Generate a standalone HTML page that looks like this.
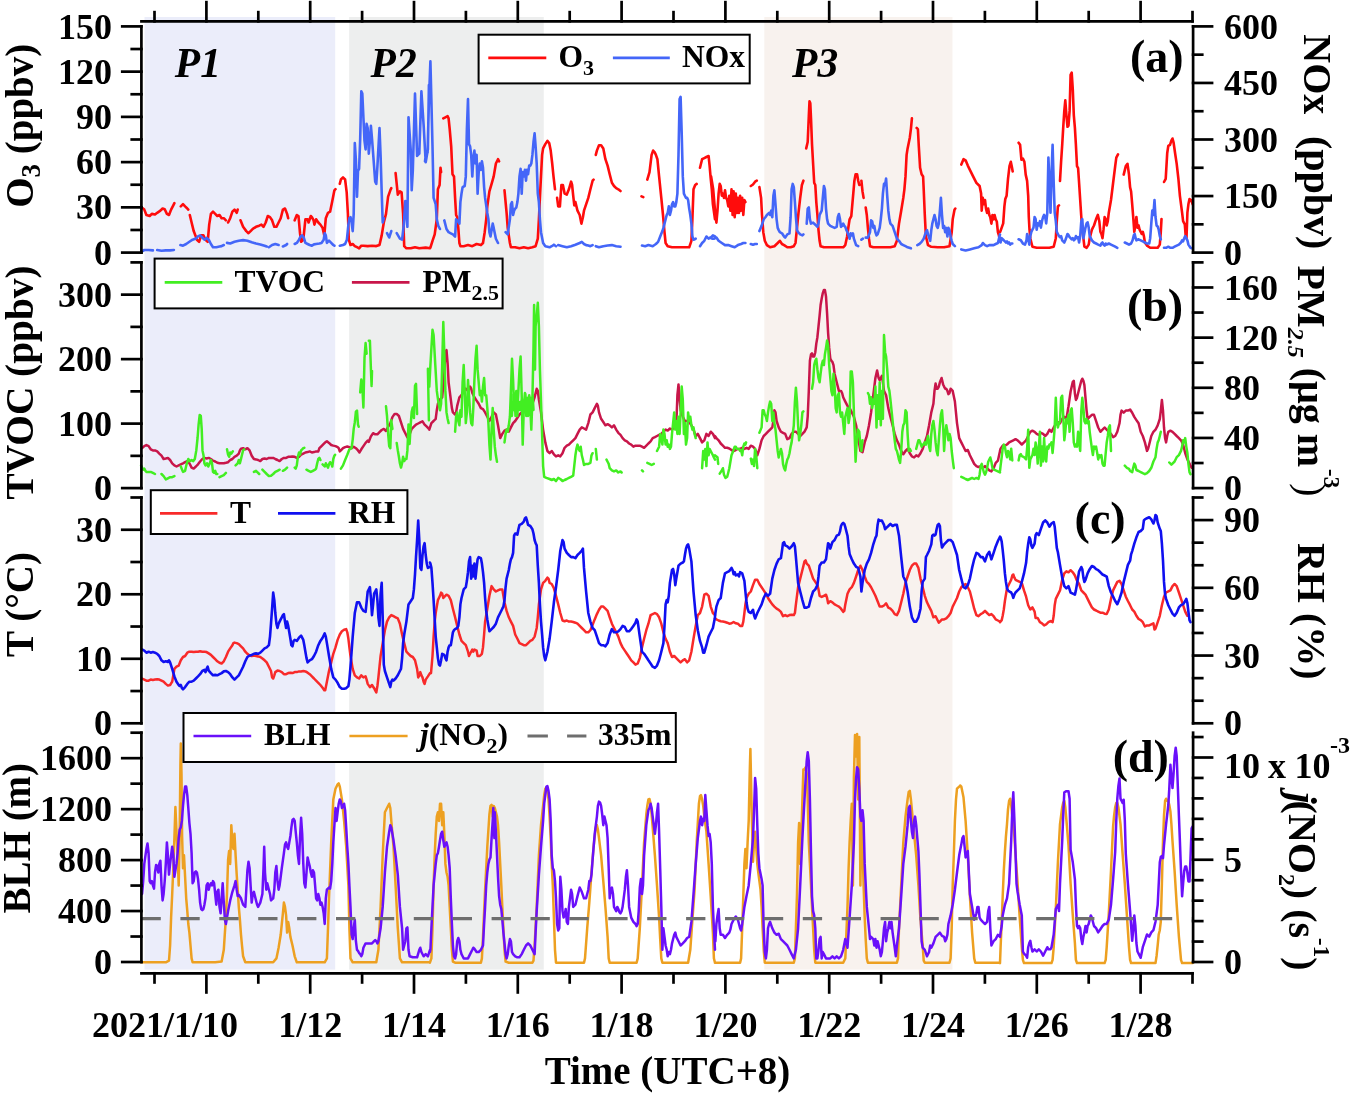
<!DOCTYPE html>
<html><head><meta charset="utf-8"><title>chart</title>
<style>html,body{margin:0;padding:0;background:#fff;width:1350px;height:1093px;overflow:hidden}svg{display:block;will-change:transform}</style>
</head><body><svg width="1350" height="1093" viewBox="0 0 1350 1093" font-family='"Liberation Serif", serif' font-weight="bold"><rect x="144.5" y="17.0" width="190.70" height="952.6" fill="#EBEDFA"/>
<rect x="349.12" y="17.0" width="194.62" height="952.6" fill="#EDEEEE"/>
<rect x="764.32" y="17.0" width="188.14" height="952.6" fill="#F8F2EE"/>
<g id="data"><path d="M141.7 207.4 L144.3 209.6 L146.4 215.0 L149.7 216.0 L151.8 213.9 L155.0 214.5 L157.2 212.8 L160.4 210.7 L162.6 208.5 L164.7 209.2 L166.9 213.9 L169.0 215.0 L171.1 209.6 L173.3 205.3 L174.4 203.1 M180.8 206.4 L183.0 204.2 L185.1 206.4 L187.3 208.5 L188.3 209.6 M189.8 215.0 L191.6 222.5 L193.7 231.1 L195.4 235.4 L196.9 239.7 L199.1 241.8 L201.2 235.4 L203.4 235.4 L205.5 239.7 L207.7 241.8 L209.2 224.6 L210.9 213.9 L213.0 211.7 L215.2 213.9 L217.3 216.0 L219.5 215.0 L221.6 218.2 L223.8 218.2 L225.9 220.3 M228.1 222.5 L230.2 218.2 L232.4 211.7 L234.5 209.6 L236.7 212.8 L237.7 209.6 M240.5 220.3 L243.1 226.8 L246.3 231.1 L248.5 233.2 L250.6 231.1 L252.8 228.9 L256.0 226.8 L259.2 225.7 L261.4 224.6 L263.5 226.8 L265.7 222.5 L267.8 216.0 L270.0 217.1 L272.1 220.3 L274.3 226.8 L276.4 226.8 L278.6 222.5 L280.7 218.2 L282.9 209.6 L285.0 208.5 L287.1 213.9 L288.2 218.2 M294.7 220.3 L296.8 215.0 L298.5 216.0 L300.0 233.2 L301.1 241.8 L303.3 239.7 L305.4 219.3 L307.6 219.3 L308.6 222.5 L310.8 216.0 L311.9 217.1 L313.6 220.3 L314.4 224.6 L316.1 219.3 L318.3 222.5 L320.4 224.6 L322.6 227.9 L324.3 235.4 L325.8 218.2 L328.0 212.8 L330.1 211.7 L332.3 201.0 L334.4 190.3 L335.5 189.2 M339.8 183.8 L340.9 179.5 L343.0 177.4 L345.1 179.5 L346.7 192.4 L347.9 213.9 L348.8 239.7 L350.5 245.0 L352.7 244.0 L354.8 246.1 L357.0 247.2 L359.1 248.3 L361.3 245.7 L363.4 245.7 L367.7 246.1 L372.0 245.7 L376.3 246.1 L379.5 245.0 L381.7 235.4 L383.8 222.5 L386.0 213.9 L388.1 196.7 L390.3 190.3 L391.3 188.1 M395.6 173.1 L397.8 194.6 L399.9 191.3 L401.6 192.4 L403.1 213.9 L404.2 246.1 L406.4 248.3 L410.7 248.3 L415.0 247.2 L419.3 248.3 L425.7 247.6 L430.0 248.3 M430.4 247.7 L432.5 240.8 L434.7 234.4 L436.8 219.3 L437.9 189.3 L439.6 185.0 L440.5 167.8 L441.1 172.1 M443.3 118.4 L445.4 117.3 L447.6 116.2 L448.6 118.4 L449.7 129.1 L451.2 146.3 L452.5 174.2 L454.0 176.4 L455.1 197.9 L456.1 215.0 L457.2 217.2 L458.3 227.9 L459.4 243.0 L460.4 246.2 L463.7 246.2 L468.0 245.1 L472.3 246.2 L476.6 244.0 L480.9 245.1 L483.0 243.0 L484.7 232.2 L486.2 219.3 L487.3 206.4 L489.4 191.4 L491.6 183.9 L493.7 176.4 L495.9 163.5 L498.0 159.2 L499.1 161.3 M504.5 190.3 L506.6 212.9 L507.7 227.9 L509.9 243.0 L510.9 247.3 L515.2 247.3 L519.5 248.3 L523.8 247.3 L528.1 248.3 L532.4 247.3 L535.6 246.2 L537.8 238.7 L538.9 219.3 L539.9 197.9 L541.0 176.4 L542.1 154.9 L543.1 148.4 L545.3 144.1 L547.4 140.9 L549.2 143.1 L550.7 150.6 L552.2 163.5 L553.5 176.4 L555.0 189.3 M557.1 197.9 L558.2 206.4 L559.9 206.4 L561.4 185.0 L562.9 185.0 L564.6 193.6 L566.8 194.6 L568.9 189.3 L571.1 181.7 L572.1 185.0 L573.2 195.7 L574.3 205.4 L575.4 202.1 L577.5 210.7 L579.7 215.0 L581.4 223.6 L582.9 217.2 L584.0 210.7 L586.1 204.3 L588.3 197.9 L590.4 189.3 L592.6 180.7 L593.6 179.6 M595.8 154.9 L596.9 150.6 L599.0 145.2 L601.1 145.2 L603.3 148.4 L605.4 159.2 L607.6 165.6 L609.7 174.2 L611.9 182.8 L614.0 186.0 L616.2 188.2 L618.3 189.3 L620.5 191.0 M641.5 196.3 L643.3 197.2 M647.3 179.6 L649.5 172.1 L651.6 154.9 L653.1 150.6 L654.9 152.7 L655.9 154.9 L657.4 159.2 L659.1 176.4 L661.3 197.9 L663.0 215.0 L664.5 232.2 L665.6 243.0 L667.7 246.2 L672.0 247.3 L676.3 247.3 L680.6 247.3 L684.9 247.3 L689.2 247.3 L691.4 240.8 L692.4 219.3 L693.5 189.3 L695.2 185.0 L696.7 183.9 M700.0 167.8 L702.1 159.2 L704.3 158.1 L706.4 157.0 L708.6 156.0 L709.6 165.6 L710.7 178.5 L711.8 189.3 L712.9 204.3 L715.0 219.3 M711.1 176.4 L713.2 189.3 L715.4 215.0 L716.4 222.6 L717.5 210.7 L718.6 193.6 L719.7 183.9 L720.7 186.0 L721.8 195.7 L722.9 193.6 L724.0 197.9 L725.0 190.3 L726.1 197.9 L727.2 200.0 L728.3 206.4 L729.3 195.7 L730.4 210.7 L731.5 189.3 L732.6 215.0 L733.6 191.4 L734.7 217.2 L735.8 193.6 L736.9 212.9 L737.9 197.9 L739.0 212.9 L740.1 195.7 L741.1 210.7 L742.2 197.9 L743.3 215.0 L744.4 200.0 L745.4 202.1 M750.8 186.0 L753.0 184.5 L755.1 181.7 L756.8 180.7 M759.4 187.1 L761.1 197.9 L762.0 215.0 L763.3 232.2 L764.8 240.8 L766.9 245.1 L770.1 247.3 L774.4 246.2 L777.7 243.0 L779.8 240.8 L782.0 244.0 L784.1 245.1 L787.3 247.3 L790.6 247.3 L793.8 246.2 L795.5 243.0 L797.0 227.9 L798.5 212.9 L800.2 197.9 L801.9 185.0 L803.4 180.7 M806.2 148.4 L807.7 142.0 L808.8 116.2 L809.5 101.2 L810.3 103.3 L811.0 118.4 L812.0 144.1 L813.1 163.5 L814.2 182.8 L815.3 185.0 L816.3 202.1 L817.4 215.0 L818.5 230.1 L819.6 240.8 L820.6 246.2 L823.9 247.3 L830.3 247.3 L836.7 247.3 L843.2 247.3 L845.3 245.1 L847.1 236.5 L848.6 225.8 L849.6 219.3 L851.3 216.1 L852.9 197.9 L854.4 180.7 L855.6 174.2 L857.1 174.2 L858.2 180.7 L859.3 185.0 M861.4 180.7 L862.5 191.4 L863.6 197.9 M865.7 207.5 L866.8 215.0 L867.9 227.9 L869.0 238.7 L870.0 246.2 L873.3 247.3 L881.9 247.3 L890.4 247.3 L894.7 246.2 L896.9 240.8 L899.0 223.6 L901.2 210.7 L903.3 197.9 L904.4 189.3 L905.5 176.4 L906.6 154.9 L907.6 148.4 L909.8 137.7 L910.9 129.1 L911.9 118.4 M916.7 128.0 L917.9 129.1 L918.8 146.3 L920.1 167.8 L921.6 174.2 L923.1 176.4 L923.7 189.3 L924.8 215.0 L925.9 236.5 L927.0 240.8 L928.0 245.1 L931.3 246.8 L937.7 247.3 L944.1 247.3 L949.5 246.2 L951.7 232.2 L952.7 219.3 L954.5 209.7 L955.3 208.6 M961.3 164.6 L963.5 159.2 L965.6 160.3 L967.8 165.6 L971.0 172.1 L973.1 176.4 L976.4 182.8 L979.6 186.0 L981.1 193.6 L981.7 210.7 L982.8 197.9 L983.9 204.3 L985.0 200.0 L986.0 208.6 L987.1 212.9 L988.2 208.6 L989.3 215.0 L990.3 217.2 L991.4 223.6 L992.5 215.0 L993.6 219.3 L994.6 215.0 L995.7 219.3 L996.8 221.5 L997.9 232.2 L998.9 235.4 L1000.0 240.8 M1000.2 231.8 L1001.7 227.6 L1003.2 223.4 L1004.4 206.4 L1005.3 199.0 L1006.6 195.8 L1008.0 178.8 L1009.5 166.1 L1010.8 161.8 L1011.9 167.1 L1012.7 171.4 M1018.6 142.7 L1020.1 144.8 L1021.4 159.7 L1022.9 158.6 L1024.4 161.8 L1025.7 174.6 L1027.1 180.9 L1028.2 195.8 L1028.8 217.0 L1029.5 229.7 L1030.3 238.2 L1032.4 246.7 L1036.7 247.8 L1040.9 247.8 L1045.2 247.8 L1049.4 247.8 L1053.7 246.7 L1055.8 238.2 L1056.8 221.2 L1057.9 206.4 L1059.0 205.3 M1060.0 180.9 L1061.1 161.8 L1062.2 144.8 L1063.2 127.9 L1064.3 110.9 L1065.3 100.3 L1066.4 115.1 L1067.5 126.8 L1068.5 125.7 L1069.6 110.9 L1070.6 74.8 L1071.7 72.7 L1072.8 89.7 L1073.8 115.1 L1074.9 127.9 L1075.9 144.8 L1077.0 166.1 L1078.1 168.2 L1079.1 183.0 L1080.2 200.0 L1081.3 217.0 L1082.3 229.7 L1083.4 238.2 L1084.4 246.7 L1086.6 247.8 L1088.7 244.6 L1089.7 238.2 L1090.8 234.0 L1091.9 229.7 L1092.9 227.6 L1094.0 225.5 L1096.1 219.1 L1097.8 214.9 L1099.3 221.2 L1100.4 231.8 L1101.4 234.0 L1102.5 238.2 L1103.5 229.7 L1104.6 217.0 L1105.7 219.1 L1106.7 225.5 L1107.8 221.2 L1108.8 212.7 L1111.0 200.0 L1113.1 183.0 L1115.2 166.1 L1116.3 157.6 L1118.0 154.4 M1123.7 174.6 L1125.8 166.1 L1127.5 163.9 L1129.0 174.6 L1130.1 187.3 L1131.1 191.5 L1132.2 204.3 L1133.2 217.0 L1134.3 231.8 L1135.4 225.5 L1136.4 217.0 L1137.5 227.6 L1138.6 225.5 L1139.6 229.7 L1140.7 231.8 L1141.7 234.0 L1142.8 231.8 L1143.9 236.1 L1144.9 242.5 L1147.0 245.6 L1150.2 247.8 L1153.4 247.8 L1157.7 247.8 L1159.8 244.6 L1160.8 231.8 L1161.5 219.1 M1164.0 182.0 L1165.7 178.8 L1167.2 153.3 L1168.3 145.9 L1170.0 144.8 L1171.4 140.6 L1172.5 138.5 L1173.6 142.7 L1175.1 153.3 L1176.7 163.9 L1178.4 178.8 L1179.9 195.8 L1182.1 212.7 L1183.1 221.2 L1184.8 224.4 L1185.7 236.1 L1186.5 238.2 L1187.4 212.7 L1188.4 204.3 L1189.5 199.0 L1191.2 200.0 L1192.7 204.3" fill="none" stroke="#FF0C0C" stroke-width="2.6" stroke-linejoin="round" stroke-linecap="round"/>
<path d="M141.7 251.5 L144.3 250.0 L148.6 250.0 L152.9 250.4 M157.2 250.0 L161.5 250.8 L165.8 250.4 L170.1 250.4 L173.9 250.0 M180.4 245.0 L183.0 245.7 L186.2 244.0 L189.4 241.8 L192.6 239.7 L195.9 238.6 L198.0 236.4 L200.1 235.4 L202.3 237.5 L204.4 239.7 L206.6 237.9 L208.7 239.7 L210.9 244.0 L213.0 247.2 L216.3 247.2 L219.5 246.5 L221.6 246.1 L223.8 245.0 M227.0 242.9 L230.2 243.5 L234.5 241.8 L238.8 240.7 L243.1 240.1 L247.4 240.7 L251.7 242.2 L256.0 243.5 L260.3 244.4 L264.6 245.7 L266.7 246.5 M268.9 247.2 L272.1 245.0 L275.3 244.0 L278.6 245.0 M282.9 246.5 L286.1 245.0 L287.1 244.0 M294.7 244.0 L296.8 242.9 L299.0 239.7 L300.7 236.4 L302.2 235.4 L303.7 237.5 L305.4 242.9 L307.6 244.0 L309.7 245.0 L311.9 245.7 L314.0 244.4 L316.1 244.0 L319.4 243.5 L321.5 242.9 L323.7 239.7 L324.7 233.2 L325.8 235.4 L326.9 242.9 L329.0 240.7 L331.2 242.9 L333.3 245.0 L334.4 245.7 M339.8 245.7 L343.0 245.0 L345.1 244.0 L346.9 239.7 L348.4 224.6 L349.4 218.2 L350.5 217.1 L351.6 222.5 L352.7 231.1 L353.7 213.9 L354.8 143.0 L355.9 160.2 L357.0 196.7 L358.0 170.9 L359.1 168.8 L360.2 138.7 L361.3 91.4 L362.3 93.6 L363.4 117.2 L364.5 140.9 L365.6 149.4 L366.6 123.7 L367.7 128.0 L368.8 153.7 L369.9 140.9 L370.9 125.8 L372.0 138.7 L374.1 166.6 L375.2 181.7 L376.3 183.8 L377.4 166.6 L379.5 128.0 L380.6 155.9 L381.7 192.4 L382.7 222.5 L383.8 218.2 M387.0 233.2 L389.2 237.5 L391.3 231.1 M396.7 233.2 L399.9 238.6 L402.1 239.7 L403.8 224.6 L405.3 201.0 L407.4 226.8 L408.5 117.2 L410.7 149.4 L411.7 190.3 L412.8 170.9 L415.0 93.6 L417.1 155.9 L419.3 153.7 L421.4 91.4 L423.6 124.7 L425.7 162.3 L427.9 149.4 L428.9 85.0 M425.0 161.3 L426.1 152.7 L427.6 152.7 L428.9 101.2 L430.4 61.4 L431.4 101.2 L432.5 146.3 L433.6 197.9 L434.7 201.1 L435.7 204.3 L436.8 219.3 L438.3 225.8 L440.0 229.0 M444.3 220.4 L446.5 229.0 L448.6 232.2 L450.8 233.3 L452.9 234.4 L455.1 236.5 L456.1 219.3 L457.2 220.4 L458.3 221.5 L459.4 223.6 L460.4 202.1 L461.5 193.6 L462.6 187.1 L464.7 186.0 L465.8 176.4 L466.9 129.1 L468.0 99.0 L469.0 144.1 L470.1 146.3 L471.2 154.9 L472.3 176.4 L473.3 159.2 L474.4 150.6 L475.5 163.5 L476.6 154.9 L477.6 193.6 L478.7 172.1 L479.8 163.5 L480.9 169.9 L481.9 161.3 L483.0 167.8 L484.1 187.1 L485.1 197.9 L487.3 212.9 L488.4 219.3 L489.4 232.2 L490.5 236.5 L492.7 223.6 L493.7 227.9 L495.9 238.7 L498.0 243.0 M505.6 232.2 L507.7 234.4 L509.9 219.3 L510.9 204.3 L512.0 202.1 L513.1 215.0 L514.1 210.7 L515.2 208.6 L516.3 207.5 L517.4 202.1 L518.4 193.6 L519.5 176.4 L520.6 168.9 L521.7 193.6 L522.7 172.1 L523.8 176.4 L524.9 169.9 L526.0 180.7 L527.0 169.9 L528.1 174.2 L529.2 165.6 L530.3 165.6 L531.3 163.5 L532.4 154.9 L533.5 142.0 L534.6 133.4 L535.6 146.3 L536.7 163.5 L537.8 193.6 L538.9 202.1 L539.9 219.3 L541.0 232.2 L543.1 243.0 L545.3 246.2 L549.6 247.3 L551.7 246.2 L553.9 244.7 L556.0 246.2 M558.2 245.1 L562.5 246.2 L566.8 247.3 L571.1 246.2 L575.4 244.7 L579.7 243.0 L581.8 241.9 L584.0 244.0 L586.1 245.1 L588.3 245.5 L590.4 246.2 L592.6 245.1 M595.8 246.2 L599.0 247.3 L603.3 246.2 L607.6 245.5 L611.9 245.1 L616.2 246.2 L620.5 246.8 M642.0 245.5 L645.2 246.2 L648.4 245.1 L652.7 246.2 L655.9 244.0 L658.1 241.9 L660.2 236.5 L662.4 231.1 L663.4 227.9 L664.5 223.6 L666.7 215.0 L667.7 212.9 L668.8 206.4 L669.9 215.0 L671.0 210.7 L672.0 204.3 L673.1 202.1 L674.2 206.4 L675.3 206.4 L676.3 202.1 L677.4 193.6 L678.5 154.9 L679.6 99.0 L680.6 96.9 L681.7 133.4 L682.8 176.4 L683.9 193.6 L684.9 195.7 L686.0 197.9 L687.1 197.9 L688.1 200.0 L689.2 208.6 L690.3 215.0 L691.4 223.6 L692.4 236.5 L693.5 239.7 L695.7 238.7 M700.0 246.2 L702.1 243.0 L704.3 240.8 L706.4 236.5 L708.6 238.7 L710.7 237.6 L712.9 235.4 L715.0 236.5 M710.0 237.6 L712.1 238.7 L714.3 238.7 L716.4 237.6 L718.6 240.8 L721.8 243.0 L725.0 245.1 L728.3 245.1 L731.5 246.2 L734.7 247.3 L737.9 245.1 L741.1 244.0 L743.3 243.0 L745.4 243.0 M750.8 244.0 L753.0 244.7 L755.1 244.0 L756.8 244.0 M759.4 231.1 L761.6 225.8 L763.7 219.3 L765.4 217.2 L766.9 215.0 L769.1 212.9 L770.1 215.0 L771.2 210.7 L772.3 217.2 L773.4 195.7 L774.4 190.3 L775.5 204.3 L776.6 219.3 L777.7 227.9 L778.7 230.1 L779.8 232.2 L782.0 233.3 L784.1 236.5 L785.2 237.6 L787.3 234.4 L789.5 233.3 L790.6 217.2 L791.6 189.3 L792.7 183.9 L793.8 187.1 L794.9 202.1 L795.9 217.2 L797.0 230.1 L798.1 232.2 L800.2 234.4 L802.4 235.4 L803.4 234.4 M806.7 223.6 L807.7 208.6 L808.8 207.5 L809.9 219.3 L811.0 223.6 L813.1 222.6 L815.3 224.7 L817.4 226.9 L818.5 223.6 L819.6 215.0 L820.6 212.9 L821.7 210.7 L822.8 197.9 L823.9 186.0 L824.9 189.3 L826.0 208.6 L827.1 219.3 L828.1 223.6 L830.3 225.8 L832.4 226.9 L834.6 227.9 L836.7 226.9 L837.8 217.2 L838.9 214.0 L840.0 219.3 L841.0 226.9 L842.1 225.8 L843.2 223.6 L844.3 225.8 L845.3 226.9 L846.4 230.1 L847.5 232.2 L848.6 235.4 L849.6 238.7 L850.7 233.3 L851.8 235.4 L852.9 233.3 L853.9 238.7 L855.0 241.9 L856.1 245.1 L858.2 246.2 M861.4 239.7 L862.9 238.7 M865.7 237.6 L867.9 237.6 L870.0 232.2 L871.1 220.4 L872.2 221.5 L873.3 227.9 L874.3 225.8 L875.4 232.2 L876.5 235.4 L877.6 234.4 L879.7 227.9 L880.8 219.3 L881.9 208.6 L882.9 193.6 L884.0 183.9 L885.1 185.0 L886.1 178.5 L887.2 195.7 L888.3 210.7 L889.4 219.3 L890.4 223.6 L892.6 225.8 L894.7 232.2 L896.9 238.7 L899.0 240.8 L901.2 244.0 L903.3 245.1 L905.5 246.2 L907.6 247.3 L910.9 248.3 M917.3 245.1 L919.4 244.0 L921.6 241.9 L923.7 238.7 L925.9 232.2 L927.0 230.1 L928.0 234.4 L929.1 237.6 L930.2 240.8 L931.3 230.1 L932.3 223.6 L933.4 219.3 L934.5 215.0 L935.6 219.3 L936.6 225.8 L937.7 227.9 L938.8 223.6 L939.9 210.7 L940.9 197.9 L942.0 215.0 L943.1 227.9 L944.1 225.8 L945.2 232.2 L946.3 227.9 L947.4 236.5 L948.4 227.9 L949.5 230.1 L950.6 236.5 L951.7 240.8 L952.7 244.0 L954.9 246.2 M961.3 249.4 L965.6 250.5 L969.9 249.4 L974.2 248.3 L978.5 247.3 L981.7 245.1 L982.8 243.0 L985.0 245.1 L987.1 246.2 L989.3 245.1 L991.4 245.1 L993.6 245.1 L995.7 244.0 L997.9 243.0 L1000.0 234.4 M1000.2 240.3 L1000.6 242.5 L1001.7 238.2 L1002.7 239.3 L1003.8 240.3 L1004.9 241.4 L1005.9 242.5 L1007.0 241.4 L1008.0 243.5 L1009.1 242.5 L1010.2 244.6 L1011.2 243.5 L1012.3 243.5 M1018.6 239.3 L1020.8 240.3 L1022.9 243.5 L1025.0 244.6 L1026.5 240.3 L1027.1 234.0 L1028.2 238.2 L1029.3 244.6 L1030.3 236.1 L1031.4 231.8 L1032.4 229.7 L1033.5 227.6 L1034.6 217.0 L1035.6 219.1 L1036.7 229.7 L1037.7 223.4 L1038.8 225.5 L1039.9 221.2 L1040.9 227.6 L1042.0 221.2 L1043.1 217.0 L1044.1 214.9 L1045.2 217.0 L1046.2 223.4 L1047.3 212.7 L1048.4 157.6 L1049.4 180.9 L1050.5 212.7 L1051.5 174.6 L1052.6 144.8 L1053.7 183.0 L1054.7 212.7 L1055.8 221.2 L1056.8 231.8 L1057.9 234.0 L1059.0 236.1 L1060.0 237.2 L1061.1 236.1 L1062.2 240.3 L1063.2 241.4 L1064.3 242.5 L1065.3 240.3 L1066.4 237.2 L1067.5 234.0 L1068.5 235.0 L1069.6 237.2 L1070.6 238.2 L1071.7 239.3 L1072.8 238.2 L1073.8 240.3 L1074.9 239.3 L1075.9 236.1 L1077.0 238.2 L1078.1 237.2 L1079.1 242.5 L1080.2 236.1 L1081.3 221.2 L1082.3 219.1 L1083.4 238.2 L1084.4 232.9 L1085.5 227.6 L1086.6 223.4 L1087.6 222.3 L1088.7 227.6 L1089.7 236.1 L1090.8 238.2 L1091.9 240.3 L1094.0 242.5 L1096.1 243.5 L1098.2 244.6 L1100.4 245.6 L1101.4 243.5 L1102.5 242.5 L1103.5 244.6 L1104.6 245.6 L1105.7 243.5 L1106.7 244.6 L1108.8 243.5 L1111.0 244.6 L1113.1 245.6 L1115.2 246.7 L1117.3 247.8 M1124.8 242.5 L1126.9 243.5 L1129.0 244.6 L1131.1 243.5 L1132.6 240.3 L1133.9 235.0 L1134.7 234.0 L1135.6 238.2 L1136.4 240.3 L1138.6 239.3 L1140.7 240.3 L1142.8 241.4 L1144.9 242.5 L1147.0 243.5 L1149.2 243.5 L1150.2 238.2 L1151.3 223.4 L1152.3 210.6 L1153.4 214.9 L1154.5 200.0 L1155.5 217.0 L1156.6 225.5 L1157.7 226.5 L1158.7 229.7 L1159.8 236.1 L1160.8 239.3 M1164.0 247.8 L1166.1 247.8 L1168.3 246.7 L1170.4 247.8 L1172.5 247.8 L1174.6 246.7 L1176.7 245.6 L1178.9 244.6 L1181.0 242.5 L1182.1 240.3 L1183.1 241.4 L1184.2 238.2 L1185.2 236.1 L1186.3 238.2 L1187.4 240.3 L1188.4 244.6 L1190.5 247.8 L1192.0 248.4" fill="none" stroke="#4466F8" stroke-width="2.6" stroke-linejoin="round" stroke-linecap="round"/>
<path d="M142.1 448.2 L144.3 446.1 L146.4 445.0 L148.6 446.1 L150.7 449.3 L152.9 450.4 L155.0 450.4 L157.2 451.4 L159.3 453.6 L161.5 455.7 L163.6 459.0 L165.8 458.5 L167.9 457.9 L170.1 460.0 L172.2 463.3 L174.4 465.4 L176.5 466.5 L178.7 465.4 L180.8 464.3 L183.0 463.3 L185.1 462.2 L187.3 461.1 L189.4 463.3 L191.6 467.6 L193.7 468.6 L195.9 466.5 L198.0 464.3 L200.1 461.5 L202.3 459.0 L204.4 457.9 L206.6 458.5 L208.7 457.9 L210.9 459.0 L213.0 460.7 L215.2 461.5 L217.3 462.8 L219.5 463.3 L221.6 463.3 L223.8 463.3 L225.9 462.8 L228.1 462.2 L230.2 460.0 L232.4 459.0 L234.5 456.8 L236.7 455.7 L238.8 453.6 L239.9 450.4 L241.0 448.7 L243.1 448.2 L245.3 449.3 L247.4 448.2 L249.6 450.4 L251.7 455.7 L253.9 459.0 L256.0 459.4 L258.1 460.0 L260.3 461.1 L262.4 459.0 L264.6 458.5 L266.7 459.0 L268.9 457.9 L271.0 457.9 L273.2 457.9 L275.3 459.0 L277.5 460.0 L279.6 461.1 L281.8 459.0 L283.9 457.9 L286.1 457.9 L288.2 456.8 L290.4 456.8 L292.5 456.4 L294.7 456.8 L296.8 457.9 L299.0 456.8 L301.1 454.7 L303.3 453.6 L305.4 452.5 L307.6 452.1 L309.7 451.4 L311.9 452.5 L314.0 452.1 L316.1 451.4 L318.3 451.4 L319.4 448.2 L321.5 446.1 L323.7 443.9 L325.8 441.8 L326.9 441.3 L329.0 442.9 L331.2 445.0 L333.3 445.6 L335.5 446.1 L337.6 447.1 L338.7 448.2 L339.8 451.4 L340.9 450.4 L343.0 448.2 L345.1 447.1 L347.3 446.5 L349.4 447.1 L351.6 448.2 L353.7 446.7 L355.9 448.2 L358.0 450.4 L359.5 452.5 L361.3 449.3 L363.4 446.1 L365.6 442.9 L367.7 440.7 L368.8 441.8 L370.9 436.4 L373.1 433.2 L375.2 434.3 L377.4 434.3 L379.5 432.1 L381.7 430.0 L383.8 428.9 L386.0 431.0 L388.1 426.7 L390.3 423.5 L392.4 417.1 L394.6 413.9 L396.7 413.9 L398.9 416.0 L401.0 422.4 L403.1 428.9 L405.3 433.2 L407.4 437.5 L409.6 434.3 L411.7 428.9 L413.9 426.7 L416.0 424.6 L418.2 423.5 L420.3 422.4 L422.5 421.4 L424.6 424.6 L426.8 426.7 L428.9 428.9 M429.3 429.6 L431.4 423.1 L433.6 421.0 L435.7 418.8 L436.8 410.2 L437.9 403.8 L440.0 399.5 L442.2 397.3 L444.3 373.7 L445.4 352.2 L446.5 350.1 L447.6 363.0 L448.6 382.3 L449.7 390.9 L450.8 399.5 L451.9 408.1 L452.9 412.4 L455.1 414.5 L456.1 412.4 L457.2 405.9 L459.4 397.3 L461.5 395.2 L463.7 390.9 L465.8 388.7 L468.0 390.9 L470.1 386.6 L471.2 388.7 L472.3 393.0 L474.4 397.3 L476.6 400.6 L478.7 403.8 L480.9 408.1 L483.0 409.1 L485.1 412.4 L487.3 416.7 L489.4 421.0 L491.6 416.7 L493.7 412.4 L495.9 414.5 L498.0 425.3 L500.2 438.1 L502.3 433.9 L504.5 430.6 L506.6 429.6 L508.8 431.7 L510.9 427.4 L513.1 423.1 L515.2 421.0 L517.4 417.7 L519.5 414.5 L521.7 412.4 L523.8 410.2 L526.0 410.2 L528.1 408.1 L530.3 412.4 L532.4 403.8 L534.6 397.3 L536.7 388.7 L537.8 390.9 L538.9 399.5 L541.0 412.4 L543.1 429.6 L545.3 442.4 L547.4 451.0 L549.6 453.2 L551.7 451.0 L553.9 454.3 L556.0 456.4 L558.2 455.3 L560.3 456.4 L562.5 453.2 L564.6 447.8 L566.8 445.7 L568.9 444.6 L571.1 442.4 L573.2 440.3 L575.4 438.1 L577.5 433.9 L579.7 429.6 L581.8 427.4 L584.0 428.5 L586.1 429.6 L588.3 423.1 L590.4 414.5 L592.6 412.4 L594.7 408.1 L596.9 403.8 L597.9 405.9 L599.0 412.4 L601.1 418.8 L603.3 422.0 L605.4 425.3 L607.6 424.2 L609.7 425.3 L611.9 427.4 L614.0 425.3 L616.2 429.6 L618.3 432.8 L620.5 434.9 L622.6 438.1 L624.8 440.3 L626.9 441.4 L629.1 443.5 L631.2 444.6 L633.4 446.7 L635.5 445.7 L637.7 445.7 L639.8 445.7 L642.0 446.7 L644.1 447.8 L646.3 445.7 L648.4 443.5 L650.6 441.4 L652.7 438.1 L654.9 437.1 L657.0 436.0 L659.1 434.9 L661.3 433.9 L663.4 431.7 L665.6 429.6 L667.7 430.6 L669.9 428.5 L672.0 429.6 L674.2 427.4 L676.3 425.3 L677.4 395.2 L678.5 384.4 L679.6 399.5 L680.6 410.2 L682.8 416.7 L684.9 421.0 L687.1 421.0 L689.2 422.0 L691.4 425.3 L693.5 429.6 L695.7 436.0 L697.8 433.9 L700.0 438.1 L702.1 442.4 L704.3 440.3 L706.4 433.9 L708.6 436.0 L710.7 431.7 L712.9 433.9 L715.0 438.1 M714.9 436.0 L716.4 438.1 L718.6 440.3 L720.7 443.5 L722.9 445.7 L725.0 447.8 L727.2 447.8 L729.3 448.5 L731.5 450.0 L733.6 451.0 L735.8 450.0 L737.9 448.9 L740.1 448.9 L742.2 447.8 L744.4 448.9 L746.5 447.8 L748.7 448.9 L750.8 445.7 L753.0 446.7 L755.1 448.9 L757.3 455.3 L759.4 448.9 L761.6 440.3 L763.7 436.0 L765.9 433.9 L768.0 431.7 L770.1 429.6 L772.3 427.4 L773.4 421.0 L774.4 410.2 L775.5 412.4 L776.6 421.0 L778.7 427.4 L780.9 431.7 L783.0 432.8 L785.2 433.9 L787.3 439.2 L789.5 438.1 L791.6 433.9 L793.8 431.7 L795.9 431.7 L798.1 433.9 L800.2 436.0 L802.4 433.9 L804.5 431.7 L806.7 427.4 L807.7 416.7 L808.8 390.9 L809.9 360.8 L811.0 354.4 L812.0 353.3 L813.1 356.5 L814.2 356.5 L815.3 352.2 L816.3 343.6 L817.4 337.2 L818.5 326.4 L819.6 315.7 L820.6 305.0 L821.7 298.5 L822.8 293.1 L823.9 289.9 L824.9 289.9 L826.0 296.4 L827.1 313.6 L828.1 332.9 L829.2 347.9 L830.3 358.7 L831.4 360.8 L832.4 361.9 L833.5 365.1 L834.6 373.7 L836.7 382.3 L838.9 390.9 L841.0 390.9 L842.1 393.0 L843.2 397.3 L845.3 401.6 L847.5 405.9 L849.6 408.1 L851.8 412.4 L853.9 416.7 L856.1 425.3 L858.2 438.1 L860.4 451.0 L862.5 452.1 L864.7 442.4 L866.8 436.0 L869.0 425.3 L871.1 412.4 L873.3 395.2 L875.4 378.0 L877.1 370.5 L878.6 378.0 L879.7 380.1 L880.8 378.0 L881.9 375.9 L882.9 382.3 L884.0 390.9 L886.1 395.2 L888.3 408.1 L890.4 416.7 L892.6 425.3 L894.7 433.9 L896.9 440.3 L899.0 444.6 L901.2 451.0 L903.3 454.3 L905.5 451.0 L907.6 448.9 L909.8 453.2 L911.9 456.4 L914.1 457.5 L916.2 455.3 L918.4 456.4 L920.5 453.2 L922.7 448.9 L924.8 442.4 L927.0 436.0 L929.1 425.3 L931.3 412.4 L933.4 403.8 L934.5 390.9 L935.6 383.4 L936.6 388.7 L937.7 388.7 L938.8 386.6 L939.9 382.3 L941.6 378.0 L943.1 384.4 L944.1 386.6 L945.2 388.7 L946.3 388.7 L947.4 390.9 L948.4 394.1 L949.5 393.0 L950.6 388.7 L952.7 390.9 L954.9 401.6 L957.0 423.1 L959.2 438.1 L961.3 442.4 L963.5 446.7 L965.6 451.0 L967.8 450.0 L969.9 455.3 L972.1 459.6 L974.2 463.9 L976.4 466.1 L978.5 467.1 L980.7 466.1 L982.8 468.2 L985.0 466.1 L987.1 468.2 L989.3 470.4 L991.4 471.4 L993.6 468.2 L995.7 462.9 L997.9 460.7 L1000.0 451.0 M1000.0 450.9 L1000.6 448.7 L1002.7 445.6 L1004.9 445.6 L1007.0 444.5 L1009.1 442.4 L1011.2 441.3 L1013.3 440.3 L1015.5 439.2 L1017.6 440.3 L1019.7 442.4 L1021.8 444.5 L1024.0 442.4 L1026.1 440.3 L1028.2 436.0 L1030.3 431.8 L1032.4 430.7 L1034.6 431.8 L1036.7 433.9 L1038.8 435.0 L1040.9 432.8 L1043.1 433.9 L1045.2 436.0 L1047.3 433.9 L1049.4 429.7 L1051.5 431.8 L1053.7 427.5 L1055.8 424.3 L1057.9 422.2 L1060.0 423.3 L1062.2 419.0 L1064.3 416.9 L1066.4 419.0 L1068.5 406.3 L1070.6 391.5 L1072.8 381.9 L1073.8 380.8 L1074.9 393.6 L1075.9 399.9 L1077.0 397.8 L1079.1 389.3 L1081.3 380.8 L1082.3 378.7 L1083.4 380.8 L1084.4 385.1 L1085.5 397.8 L1086.6 410.6 L1087.6 419.0 L1089.7 416.9 L1091.9 414.8 L1094.0 414.8 L1096.1 421.2 L1098.2 427.5 L1100.4 431.8 L1102.5 429.7 L1104.6 427.5 L1106.7 429.7 L1108.8 431.8 L1111.0 433.9 L1113.1 437.1 L1115.2 436.0 L1117.3 431.8 L1119.5 423.3 L1120.5 414.8 L1121.6 410.6 L1123.7 412.7 L1125.8 410.6 L1127.9 410.6 L1130.1 409.5 L1132.2 412.7 L1134.3 416.9 L1136.4 420.1 L1138.6 423.3 L1140.7 431.8 L1142.8 436.0 L1144.9 442.4 L1147.0 450.9 L1148.1 448.7 L1149.2 444.5 L1151.3 436.0 L1153.4 431.8 L1155.5 429.7 L1157.7 425.4 L1159.8 419.0 L1160.8 410.6 L1161.9 399.9 L1163.0 410.6 L1164.0 427.5 L1165.1 438.1 L1166.1 442.4 L1167.2 436.0 L1168.3 431.8 L1170.4 430.7 L1172.5 431.8 L1174.6 433.9 L1176.7 436.0 L1178.9 438.1 L1181.0 440.3 L1183.1 444.5 L1185.2 453.0 L1187.4 459.4 L1189.5 463.6 L1191.6 467.8" fill="none" stroke="#C8164A" stroke-width="2.5" stroke-linejoin="round" stroke-linecap="round"/>
<path d="M141.1 465.4 L142.1 467.6 L143.2 469.7 L144.3 468.6 L145.4 470.8 L146.4 471.9 L148.6 471.9 L150.7 471.9 L152.9 472.9 L155.0 474.0 M161.5 474.0 L163.6 476.1 L165.8 479.4 L167.9 478.3 L170.1 477.2 L172.2 477.2 L174.4 476.1 M180.8 466.5 L183.0 471.9 L185.1 470.8 L186.8 463.3 L188.3 459.0 L189.8 461.1 L191.6 460.0 L193.3 461.1 L194.8 459.0 L196.3 450.4 L197.6 437.5 L198.6 424.6 L199.7 414.9 L200.8 416.0 L201.7 428.9 L202.5 450.4 L203.4 454.7 L204.4 463.3 L205.5 465.4 L207.0 463.3 L208.3 466.5 L209.8 463.3 L210.9 460.0 L212.0 463.3 L213.0 471.9 L214.1 472.9 L215.2 470.8 L216.3 474.0 L217.3 474.0 M219.5 477.2 L221.6 476.1 L223.8 475.1 L225.9 472.9 M227.0 449.3 L228.1 454.7 L229.1 456.8 L230.2 452.5 L231.3 453.6 L232.8 451.4 M235.6 465.4 L237.7 463.3 L238.8 460.0 L239.9 463.3 L241.0 459.0 L242.0 454.7 L243.1 450.4 L244.2 449.3 M253.9 471.9 L256.0 470.8 L258.1 472.9 L259.2 474.0 M262.4 469.7 L264.6 471.9 L266.7 474.0 L268.9 476.1 L271.0 475.7 L273.2 474.0 L275.3 471.9 L277.5 470.8 L279.6 469.7 M282.9 470.8 L285.0 469.7 L287.1 467.6 M294.7 467.6 L295.7 468.6 L296.8 465.4 L297.9 456.8 L299.0 452.5 L300.0 454.7 L301.1 450.4 L302.2 449.3 L303.3 448.2 L304.3 447.8 M306.5 469.7 L308.6 470.8 L310.8 471.9 L312.9 470.8 L315.1 469.7 L316.1 468.6 L317.2 463.3 L318.3 459.0 L319.4 457.9 L320.4 460.0 M322.6 464.3 L324.7 466.5 L325.8 463.3 L326.9 465.4 L328.0 467.6 L329.0 464.3 L330.1 462.2 L331.2 463.3 L332.3 466.5 L333.3 459.0 L334.4 455.7 L335.1 454.7 M340.9 468.6 L343.0 465.4 L345.1 460.0 L347.3 454.7 L349.4 449.3 L351.6 448.2 L352.7 439.6 L353.7 428.9 L354.8 422.4 L355.9 411.7 L357.0 410.6 L358.0 424.6 L358.7 426.7 M360.2 392.4 L361.3 379.5 L362.3 385.9 L363.4 407.4 L364.5 358.0 L365.6 343.0 L366.6 353.7 M368.8 340.8 L369.9 340.8 L370.9 368.7 L371.6 385.9 L372.0 370.9 M386.0 406.3 L387.0 416.0 L388.1 433.2 L389.2 446.1 L390.3 448.2 L391.3 420.3 L392.4 428.9 M396.7 442.9 L397.8 450.4 L398.9 456.8 L399.9 463.3 L401.0 467.6 L402.1 463.3 L403.1 456.8 L404.2 461.1 L405.3 459.0 L406.4 459.0 L407.4 450.4 L408.5 424.6 L409.6 443.9 L410.7 424.6 L411.7 411.7 L412.8 407.4 L413.9 418.1 L415.0 385.9 L416.0 383.8 L417.1 413.9 M427.9 368.7 L428.9 420.3 M429.3 386.6 L430.4 365.1 L432.5 329.7 L433.6 335.0 L435.3 365.1 L436.8 390.9 L438.3 401.6 L440.0 410.2 L441.1 403.8 L442.2 365.1 L443.3 322.1 L444.3 352.2 L445.4 390.9 L446.5 412.4 L447.6 418.8 L448.6 423.1 M455.1 431.7 L456.1 416.7 L457.2 412.4 L458.3 421.0 L459.4 425.3 L460.4 410.2 L461.5 416.7 L462.6 382.3 L463.7 365.1 L464.7 390.9 L465.8 423.1 L466.9 412.4 L468.0 380.1 L469.0 395.2 L470.1 412.4 L471.2 423.1 L472.3 425.3 L473.3 408.1 L474.4 380.1 L475.5 358.7 L476.6 345.8 L477.6 369.4 L478.7 382.3 L479.8 395.2 L480.9 390.9 L481.9 401.6 L483.0 386.6 L484.1 378.0 L485.1 395.2 L486.2 395.2 L487.3 408.1 L488.4 423.1 L489.4 444.6 L490.5 459.6 L491.6 429.6 L492.7 408.1 L493.7 429.6 L494.8 446.7 L495.9 455.3 L497.0 461.8 M504.5 442.4 L505.6 433.9 L506.6 429.6 L507.7 431.7 L508.8 425.3 L509.9 416.7 L510.9 390.9 L512.0 358.7 L513.1 380.1 L514.1 408.1 L515.2 399.5 L516.3 390.9 L517.4 410.2 L518.4 390.9 L519.5 369.4 L520.6 356.5 L521.7 395.2 L522.7 444.6 L523.8 408.1 L524.9 393.0 L526.0 403.8 L527.0 412.4 L528.1 401.6 L529.2 395.2 L530.3 408.1 L531.3 429.6 L532.4 399.5 L533.5 347.9 L534.1 305.0 L535.0 369.4 L535.6 326.4 L536.7 315.7 L537.8 302.8 L538.9 326.4 L539.9 369.4 L541.0 401.6 L542.1 433.9 L543.1 466.1 L544.2 476.8 L546.4 477.9 L549.6 479.0 L551.7 480.0 L553.9 479.0 L556.0 481.1 L558.2 477.9 L560.3 479.0 L562.5 481.1 L564.6 480.0 L566.8 479.0 L568.9 477.9 L571.1 476.8 L573.2 475.7 L575.4 455.3 L576.4 448.9 L577.5 444.6 L578.6 448.9 L579.7 451.0 L580.7 446.7 L581.8 455.3 L582.9 459.6 L584.0 465.0 L586.1 463.9 L588.3 463.9 L590.4 462.9 L591.5 455.3 L592.6 453.2 M595.8 448.9 L596.9 459.6 M606.5 459.6 L607.6 461.8 L608.7 463.9 L609.7 468.2 L611.9 470.4 L614.0 471.4 L616.2 470.4 L618.3 472.5 L620.5 471.4 L621.6 472.5 M642.0 470.4 L643.0 471.4 M647.3 462.9 L649.5 463.9 L651.6 465.0 L653.8 463.9 M657.0 451.0 L659.1 446.7 L660.2 433.9 L661.3 438.1 L662.4 444.6 L663.4 429.6 L664.5 433.9 L665.6 444.6 L666.7 440.3 L667.7 446.7 L668.8 444.6 L669.9 448.9 L671.0 446.7 L672.0 433.9 L673.1 423.1 L674.2 412.4 L675.3 429.6 L676.3 421.0 L677.4 433.9 L678.5 416.7 L679.6 433.9 L680.6 412.4 L681.7 386.6 L682.8 399.5 L683.9 433.9 L684.9 423.1 L686.0 444.6 L687.1 438.1 L688.1 412.4 L689.2 421.0 L690.3 416.7 L691.4 425.3 L692.4 429.6 L693.5 427.4 L694.6 433.9 L695.7 438.1 M702.1 468.2 L703.2 451.0 L704.3 459.6 L705.3 448.9 L706.4 466.1 L707.5 442.4 L708.6 455.3 L709.6 448.9 L710.7 451.0 L712.9 455.3 L713.9 457.5 L715.0 459.6 M714.9 455.3 L716.4 456.4 L717.5 457.5 L718.2 463.9 M719.7 473.6 L721.8 470.4 L722.9 468.2 L724.0 474.7 L725.5 477.9 L727.2 476.8 L728.3 472.5 L729.3 468.2 L730.4 461.8 L731.5 455.3 L733.2 451.0 L734.7 446.7 L735.8 446.7 L736.9 448.9 M739.0 448.9 L740.1 451.0 L741.1 450.0 L742.2 455.3 L743.3 446.7 L744.4 443.5 L745.4 444.6 L746.1 442.4 M750.8 458.6 L751.9 463.9 L753.0 459.6 L754.0 466.1 L755.1 448.9 L756.2 455.3 L757.3 468.2 M759.4 432.8 L761.6 427.4 L762.6 410.2 L763.7 410.2 L764.8 414.5 L765.9 416.7 L766.9 421.0 L768.0 412.4 L769.1 405.9 L770.1 401.6 L771.2 403.8 L772.3 421.0 L773.4 412.4 L774.4 423.1 L775.5 429.6 L776.6 440.3 L777.7 451.0 L778.7 457.5 L779.8 453.2 L780.9 448.9 L782.0 453.2 L783.0 463.9 L784.1 468.2 L785.2 470.4 L786.3 463.9 L787.3 459.6 L788.4 457.5 L789.5 453.2 L790.6 446.7 L791.6 442.4 L792.7 433.9 L793.8 425.3 L794.9 401.6 L795.9 387.7 L797.0 401.6 L798.1 425.3 L799.1 440.3 L800.2 433.9 L801.3 425.3 L802.4 412.4 L803.4 411.3 M812.0 388.7 L813.1 382.3 L814.2 365.1 L815.3 360.8 L816.3 358.7 L817.4 369.4 L818.5 378.0 L819.6 382.3 L820.6 373.7 L821.7 365.1 L822.8 360.8 L823.9 365.1 L824.9 354.4 L826.0 347.9 L827.1 340.4 L828.1 345.8 L829.2 365.1 L830.3 378.0 L831.4 390.9 L832.4 395.2 L833.5 373.7 L834.6 386.6 L835.7 408.1 L836.7 412.4 L837.8 395.2 L838.9 393.0 L840.0 412.4 L841.0 416.7 L842.1 412.4 L843.2 423.1 L844.3 433.9 L845.3 416.7 L846.4 412.4 L847.5 408.1 L848.6 423.1 L849.6 416.7 L850.7 371.6 L851.8 371.6 L852.9 382.3 L853.9 412.4 L855.0 444.6 L855.6 461.8 L856.5 444.6 L857.8 429.6 L859.3 431.7 L860.4 446.7 L861.4 451.0 L862.5 440.3 M867.9 393.0 L869.0 395.2 L870.0 403.8 L871.1 397.3 L872.2 408.1 L873.3 399.5 L874.3 403.8 L875.4 386.6 L876.5 427.4 L877.6 395.2 L878.6 418.8 L879.7 382.3 L880.8 425.3 L881.9 390.9 L882.9 418.8 L884.0 335.0 L885.1 352.2 L886.1 356.5 L887.2 369.4 L888.3 386.6 L889.4 390.9 L890.4 399.5 L891.5 410.2 L892.6 421.0 L893.7 431.7 L894.7 440.3 L895.8 448.9 L896.9 451.0 L898.0 455.3 L899.0 459.6 L900.1 462.9 L901.2 451.0 L902.3 431.7 L903.3 425.3 L904.4 423.1 L905.5 410.2 L906.6 412.4 L907.6 433.9 L908.7 451.0 L909.8 448.9 L910.9 451.0 M916.2 448.9 L917.3 444.6 L918.4 440.3 L919.4 440.3 L920.5 443.5 L921.6 446.7 L922.7 444.6 L923.7 444.6 L924.8 442.4 L925.9 444.6 L927.0 440.3 L928.0 436.0 L929.1 446.7 L930.2 451.0 L931.3 433.9 L932.3 425.3 L933.4 421.0 L934.5 429.6 L935.6 442.4 L936.6 451.0 L937.7 455.3 L938.8 440.3 L939.9 425.3 L940.9 414.5 L942.0 410.2 L943.1 425.3 L944.1 451.0 L945.2 433.9 L946.3 425.3 L947.4 431.7 L948.4 440.3 L949.5 433.9 L950.6 438.1 L951.7 451.0 L952.7 459.6 L953.8 468.2 M961.3 476.8 L963.5 477.9 L965.6 479.0 L967.8 480.0 L969.9 479.0 L972.1 477.9 L974.2 479.0 L976.4 477.9 L978.5 479.0 L979.6 474.7 L980.7 466.1 L981.7 463.9 L982.8 468.2 L983.9 472.5 L985.0 474.7 L986.0 472.5 L987.1 468.2 L988.2 461.8 L989.3 459.6 L990.3 457.5 L991.4 461.8 L992.5 468.2 L993.6 469.3 L995.7 470.4 L997.9 471.4 L1000.0 472.5 M1000.0 471.0 L1000.6 465.7 L1001.7 457.2 L1002.7 448.7 L1003.8 444.5 L1004.9 446.6 L1005.9 453.0 L1007.0 457.2 L1008.0 450.9 L1009.1 453.0 L1010.2 459.4 L1011.2 448.7 L1012.3 460.4 M1018.6 460.4 L1019.7 455.1 L1020.8 454.1 L1021.8 456.2 L1024.0 457.2 L1026.1 459.4 L1027.1 448.7 L1028.2 429.7 L1029.3 467.8 L1030.3 459.4 L1031.4 457.2 L1032.4 455.1 L1033.5 448.7 L1034.6 455.1 L1035.6 442.4 L1036.7 448.7 L1037.7 463.6 L1038.8 448.7 L1039.9 431.8 L1040.9 465.7 L1042.0 446.6 L1043.1 461.5 L1044.1 438.1 L1045.2 457.2 L1046.2 461.5 L1047.3 446.6 L1048.4 448.7 L1049.4 444.5 L1050.5 444.5 L1051.5 442.4 L1052.6 453.0 L1053.7 440.3 L1054.7 427.5 L1055.8 397.8 L1056.8 421.2 L1057.9 427.5 L1059.0 423.3 L1060.0 421.2 L1061.1 397.8 L1062.2 395.7 L1063.2 414.8 L1064.3 440.3 L1065.3 431.8 L1066.4 419.0 L1067.5 423.3 L1068.5 414.8 L1069.6 431.8 L1070.6 410.6 L1071.7 408.4 L1072.8 423.3 L1073.8 442.4 L1074.9 446.6 L1075.9 444.5 L1077.0 446.6 L1078.1 431.8 L1079.1 442.4 L1080.2 450.9 L1081.3 410.6 L1082.3 397.8 L1083.4 408.4 L1084.4 421.2 L1085.5 423.3 L1086.6 419.0 L1087.6 423.3 L1088.7 421.2 L1089.7 431.8 L1090.8 440.3 L1091.9 448.7 L1092.9 455.1 L1094.0 446.6 L1095.0 448.7 L1096.1 446.6 L1097.2 453.0 L1098.2 459.4 L1099.3 455.1 L1100.4 457.2 L1101.4 455.1 L1102.5 463.6 L1103.5 465.7 L1104.6 465.7 L1105.7 453.0 L1106.7 442.4 L1107.8 436.0 L1108.8 427.5 L1109.9 425.4 L1111.0 450.9 M1124.8 465.7 L1126.9 467.8 L1129.0 468.9 L1130.1 471.0 L1132.2 472.1 L1133.2 467.8 L1134.3 463.6 L1135.4 465.7 L1136.4 470.0 L1138.6 471.0 L1140.7 472.1 L1142.8 473.2 L1144.9 474.2 L1147.0 473.2 L1149.2 471.0 L1151.3 467.8 L1153.4 461.5 L1155.5 457.2 L1156.6 448.7 L1157.7 442.4 L1158.7 440.3 L1159.8 436.0 L1160.8 431.8 M1169.3 462.5 L1171.4 464.7 L1172.5 463.6 L1174.6 461.5 L1176.7 457.2 L1178.9 455.1 L1181.0 450.9 L1182.1 446.6 L1183.1 440.3 L1184.2 442.4 L1185.2 438.1 L1186.3 446.6 L1187.4 453.0 L1188.4 463.6 L1189.5 472.1 L1190.5 474.2 M511.0 394.0 L511.9 416.0 L512.8 402.0 L513.7 410.0 L514.6 398.0 L515.5 416.0 L516.4 398.0 L517.3 416.0 L518.2 402.0 L519.1 410.0 L520.0 402.0 L520.9 410.0 L521.8 398.0 L522.7 413.0 L523.6 402.0 L524.5 410.0 L525.4 394.0 L526.3 416.0 L527.2 398.0 L528.1 416.0 L529.0 402.0 L529.9 413.0 L530.8 398.0 L531.7 416.0 L532.6 394.0 L533.5 410.0" fill="none" stroke="#42EE22" stroke-width="2.5" stroke-linejoin="round" stroke-linecap="round"/>
<path d="M142.1 678.5 L144.3 679.6 L146.4 680.7 L148.6 680.7 L150.7 679.6 L152.9 680.0 L155.0 679.6 L157.2 679.2 L159.3 679.6 L161.5 680.7 L163.6 681.7 L165.8 683.9 L167.9 685.6 L170.1 685.0 L172.2 681.7 L173.3 675.3 L174.4 668.9 L176.5 666.7 L178.7 665.6 L180.8 660.3 L183.0 657.0 L185.1 656.0 L187.3 652.7 L189.4 651.7 L191.6 651.7 L193.7 652.1 L195.9 651.7 L198.0 651.7 L200.1 651.2 L202.3 651.7 L204.4 651.7 L206.6 652.1 L208.7 653.4 L210.9 654.9 L213.0 657.0 L215.2 659.2 L217.3 661.3 L219.5 662.8 L221.6 663.5 L223.8 661.3 L225.9 657.0 L228.1 651.7 L230.2 648.4 L232.4 645.2 L233.4 643.1 L234.5 642.6 L236.7 643.1 L238.8 644.1 L241.0 646.3 L243.1 648.4 L245.3 651.7 L247.4 653.8 L249.6 655.5 L251.7 656.0 L253.9 655.5 L256.0 656.0 L258.1 656.4 L260.3 657.0 L262.4 658.5 L264.6 660.3 L266.7 662.4 L268.9 666.7 L271.0 671.0 L272.1 677.4 L273.2 678.5 L274.3 675.3 L275.3 672.1 L277.5 670.6 L279.6 671.0 L281.8 672.1 L283.9 674.2 L286.1 674.2 L288.2 673.1 L290.4 672.7 L292.5 673.1 L294.7 672.1 L296.8 672.1 L299.0 671.4 L301.1 671.4 L303.3 671.0 L305.4 671.4 L307.6 672.7 L309.7 674.2 L311.9 676.4 L314.0 678.5 L316.1 680.7 L318.3 682.8 L320.4 685.0 L322.6 687.8 L324.3 690.3 L325.2 690.3 L326.9 681.7 L329.0 671.0 L331.2 662.4 L333.3 653.8 L335.5 647.4 L337.6 639.9 L339.8 634.5 L341.9 631.3 L344.1 629.8 L346.2 629.1 L347.3 632.3 L348.4 638.8 L349.4 647.4 L350.5 656.0 L351.6 662.4 L352.7 668.9 L354.8 675.3 L357.0 677.4 L359.1 678.5 L361.3 675.3 L363.4 677.4 L365.6 676.4 L366.6 679.6 L367.7 683.9 L369.9 687.1 L372.0 685.0 L374.1 688.2 L375.2 690.3 L376.3 692.5 L377.4 686.0 L378.4 677.4 L379.5 666.7 L380.6 656.0 L382.7 643.1 L384.9 630.2 L387.0 621.6 L389.2 617.3 L391.3 615.1 L393.5 616.2 L395.6 617.3 L397.8 618.4 L399.9 623.7 L402.1 634.5 L404.2 643.1 L406.4 651.7 L408.5 653.8 L410.7 656.0 L412.8 657.0 L415.0 660.3 L417.1 668.9 L418.2 677.4 L419.3 675.3 L420.3 672.1 L421.4 675.3 L422.5 677.4 L423.6 681.7 L424.6 683.9 L425.7 679.6 L427.9 676.4 L430.0 673.1 M429.9 673.6 L431.0 673.1 L432.5 656.0 L433.6 636.6 L434.7 621.6 L435.7 613.0 L436.8 606.6 L437.9 600.1 L440.0 595.8 L441.1 592.6 L442.2 593.7 L443.3 598.0 L444.3 596.9 L446.5 594.7 L448.6 595.8 L450.8 600.1 L452.9 608.7 L455.1 617.3 L457.2 625.9 L459.4 634.5 L461.5 640.9 L463.7 643.1 L465.8 645.2 L468.0 651.7 L469.0 656.0 L470.1 653.8 L472.3 649.5 L473.3 651.7 L474.4 649.5 L476.6 650.6 L477.6 656.0 L479.8 656.0 L481.9 653.8 L483.0 647.4 L484.1 634.5 L485.1 621.6 L487.3 608.7 L489.4 595.8 L491.6 586.1 L493.7 589.4 L495.9 591.5 L498.0 590.4 L500.2 589.4 L502.3 589.4 L503.4 595.8 L504.5 602.3 L506.6 610.9 L508.8 617.3 L510.9 621.6 L513.1 625.9 L515.2 634.5 L517.4 638.8 L519.5 643.1 L521.7 644.1 L523.8 645.2 L526.0 645.2 L528.1 643.1 L530.3 640.9 L532.4 639.9 L534.6 636.6 L536.7 628.0 L537.8 617.3 L538.9 604.4 L541.0 589.4 L543.1 582.9 L545.3 580.8 L547.4 577.6 L548.5 578.6 L549.6 582.9 L551.7 584.0 L553.9 588.3 L556.0 595.8 L558.2 604.4 L560.3 613.0 L562.5 620.5 L564.6 621.2 L566.8 620.5 L568.9 621.6 L571.1 621.6 L573.2 622.0 L575.4 622.7 L577.5 623.7 L579.7 625.9 L581.8 628.0 L584.0 630.2 L586.1 632.3 L588.3 632.3 L590.4 630.2 L592.6 624.8 L594.7 619.4 L596.9 614.1 L599.0 609.8 L601.1 606.6 L603.3 606.6 L605.4 608.7 L607.6 610.9 L609.7 617.3 L611.9 623.7 L614.0 628.0 L616.2 632.3 L618.3 636.6 L620.5 643.1 L622.6 647.4 L624.8 650.6 L626.9 653.8 L629.1 657.0 L631.2 660.3 L633.4 662.4 L635.5 664.6 L637.7 663.5 L639.8 658.1 L642.0 647.4 L644.1 638.8 L646.3 630.2 L648.4 623.7 L650.6 615.1 L652.7 614.1 L654.9 613.0 L657.0 614.1 L659.1 617.3 L661.3 623.7 L663.4 632.3 L665.6 638.8 L667.7 643.1 L669.9 651.7 L672.0 657.0 L674.2 656.0 L676.3 658.1 L678.5 660.3 L680.6 662.4 L682.8 660.3 L684.9 659.2 L687.1 662.4 L689.2 660.3 L691.4 651.7 L693.5 638.8 L695.7 625.9 L697.8 615.1 L700.0 613.0 L702.1 606.6 L704.3 594.7 L706.4 593.7 L708.6 595.8 L710.7 606.6 L712.9 613.0 L715.0 615.1 M714.9 618.4 L716.4 619.4 L718.6 620.5 L720.7 621.2 L722.9 621.6 L725.0 622.0 L727.2 622.7 L729.3 623.7 L731.5 623.3 L733.6 622.0 L735.8 623.3 L737.9 623.7 L740.1 625.9 L742.2 625.9 L743.3 621.6 L744.4 613.0 L745.4 604.4 L746.5 598.0 L748.7 593.7 L750.8 591.5 L753.0 585.1 L755.1 579.7 L757.3 579.7 L759.4 584.0 L761.6 587.2 L763.7 590.4 L765.9 593.7 L768.0 598.0 L770.1 601.2 L772.3 604.4 L774.4 606.6 L776.6 608.7 L778.7 609.8 L780.9 611.9 L783.0 616.2 L785.2 615.1 L787.3 616.2 L789.5 615.1 L791.6 614.7 L793.8 615.1 L794.9 613.0 L795.9 604.4 L798.1 587.2 L800.2 578.6 L802.4 570.0 L804.5 561.4 L805.6 560.4 L806.7 563.6 L808.8 565.7 L811.0 572.2 L813.1 578.6 L815.3 581.9 L817.4 585.1 L818.5 589.4 L819.6 595.8 L821.7 596.9 L823.9 595.8 L826.0 594.7 L827.1 598.0 L828.1 603.3 L830.3 601.2 L832.4 602.3 L834.6 604.4 L836.7 605.5 L838.9 606.6 L841.0 608.7 L843.2 611.9 L844.3 610.9 L845.3 604.4 L847.5 593.7 L849.6 589.4 L851.8 587.2 L853.9 582.9 L856.1 576.5 L858.2 570.0 L860.4 565.7 L862.5 570.0 L864.7 576.5 L866.8 581.9 L869.0 584.0 L871.1 587.2 L873.3 591.5 L875.4 595.8 L877.6 601.2 L879.7 606.6 L881.9 606.6 L884.0 605.5 L886.1 603.3 L888.3 607.6 L890.4 608.7 L892.6 610.9 L894.7 614.1 L896.9 615.1 L899.0 610.9 L901.2 602.3 L903.3 593.7 L905.5 582.9 L907.6 576.5 L909.8 570.0 L911.9 565.7 L914.1 563.6 L916.2 563.6 L918.4 567.9 L920.5 578.6 L922.7 587.2 L924.8 595.8 L927.0 602.3 L929.1 606.6 L931.3 610.9 L933.4 617.3 L935.6 616.2 L937.7 620.5 L938.8 622.7 L939.9 621.6 L942.0 619.4 L944.1 619.4 L946.3 618.4 L948.4 616.2 L950.6 613.0 L952.7 606.6 L954.9 602.3 L957.0 598.0 L959.2 591.5 L961.3 587.2 L963.5 585.1 L965.6 584.0 L967.8 587.2 L969.9 591.5 L972.1 600.1 L974.2 608.7 L976.4 615.1 L978.5 616.2 L980.7 614.1 L982.8 613.0 L985.0 610.9 L987.1 613.0 L989.3 615.1 L991.4 614.1 L993.6 616.2 L995.7 619.4 L997.9 620.5 L1000.0 621.6 M1000.0 622.2 L1001.7 620.1 L1002.7 615.8 L1003.8 609.5 L1004.9 601.0 L1007.0 588.3 L1009.1 584.0 L1011.2 579.8 L1012.3 575.5 L1013.3 574.5 L1014.4 577.6 L1015.5 579.8 L1017.6 580.8 L1019.7 581.9 L1021.8 582.9 L1024.0 590.4 L1026.1 596.7 L1028.2 605.2 L1030.3 609.5 L1032.4 607.4 L1034.6 611.6 L1035.6 618.0 L1037.7 618.0 L1039.9 622.2 L1042.0 623.3 L1044.1 625.4 L1046.2 624.3 L1048.4 622.2 L1050.5 621.1 L1052.6 622.2 L1053.7 615.8 L1054.7 605.2 L1055.8 598.9 L1057.9 594.6 L1060.0 590.4 L1062.2 579.8 L1064.3 573.4 L1066.4 571.3 L1068.5 572.3 L1070.6 570.2 L1072.8 572.3 L1074.9 575.5 L1077.0 580.8 L1079.1 584.0 L1081.3 590.4 L1083.4 592.5 L1085.5 594.6 L1087.6 598.9 L1089.7 603.1 L1091.9 607.4 L1094.0 609.5 L1096.1 610.5 L1098.2 611.6 L1100.4 612.7 L1102.5 612.7 L1104.6 613.7 L1106.7 614.1 L1108.8 609.5 L1111.0 598.9 L1113.1 590.4 L1115.2 586.1 L1117.3 581.9 L1119.5 580.8 L1121.6 584.0 L1123.7 590.4 L1125.8 596.7 L1127.9 601.0 L1130.1 605.2 L1132.2 609.5 L1134.3 611.6 L1136.4 615.8 L1138.6 619.0 L1140.7 620.1 L1142.8 622.2 L1144.9 626.5 L1147.0 625.4 L1149.2 625.4 L1151.3 624.3 L1153.4 623.3 L1154.5 629.6 L1155.5 628.6 L1157.7 622.2 L1159.8 615.8 L1161.9 605.2 L1164.0 596.7 L1166.1 592.5 L1168.3 591.4 L1170.4 590.4 L1172.5 586.1 L1174.6 584.0 L1176.7 586.1 L1178.9 592.5 L1181.0 598.9 L1183.1 605.2 L1185.2 611.6 L1187.4 615.8" fill="none" stroke="#F82A2A" stroke-width="2.5" stroke-linejoin="round" stroke-linecap="round"/>
<path d="M142.1 649.5 L144.3 650.6 L146.4 652.7 L148.6 651.7 L150.7 652.7 L152.9 652.1 L155.0 652.7 L157.2 653.8 L159.3 656.0 L161.5 660.3 L163.6 662.0 L165.8 661.3 L167.9 662.0 L169.0 660.3 L170.1 662.4 L172.2 668.9 L174.4 676.4 L176.5 681.7 L178.7 685.0 L179.7 686.0 L180.8 685.0 L181.9 688.2 L183.0 689.3 L185.1 687.1 L187.3 683.9 L189.4 681.7 L191.6 681.7 L193.7 680.7 L195.9 678.5 L198.0 676.4 L200.1 674.2 L202.3 671.0 L204.4 669.9 L205.5 672.1 L206.6 668.9 L207.7 666.7 L208.7 670.6 L210.9 673.1 L213.0 675.3 L215.2 674.9 L217.3 675.3 L219.5 674.2 L221.6 673.1 L223.8 671.4 L225.9 671.0 L228.1 672.1 L230.2 674.2 L232.4 677.4 L234.5 679.6 L236.7 677.4 L238.8 675.3 L241.0 671.0 L243.1 666.7 L245.3 661.3 L247.4 657.0 L249.6 655.5 L251.7 654.9 L253.9 653.8 L256.0 653.4 L258.1 653.8 L260.3 652.7 L262.4 650.6 L264.6 648.4 L266.7 647.4 L268.9 645.2 L270.0 636.6 L271.0 623.7 L272.1 608.7 L273.2 592.6 L274.3 600.1 L275.3 613.0 L276.4 623.7 L277.5 628.0 L278.6 623.7 L279.6 621.6 L280.7 619.4 L281.8 617.3 L282.9 615.1 L283.9 614.1 L285.0 621.6 L286.1 628.0 L287.1 621.6 L288.2 625.9 L289.3 632.3 L290.4 638.8 L291.4 645.2 L292.5 646.3 L293.6 640.9 L294.7 639.9 L296.8 640.9 L299.0 637.7 L301.1 635.6 L303.3 639.9 L304.3 645.2 L305.4 651.7 L306.5 658.1 L307.6 662.4 L309.7 660.3 L311.9 659.2 L314.0 656.0 L316.1 651.7 L318.3 645.2 L320.4 640.9 L322.6 637.7 L324.7 633.4 L325.8 636.6 L326.9 643.1 L329.0 656.0 L331.2 668.9 L333.3 677.4 L335.5 679.6 L337.6 682.8 L339.8 687.1 L341.9 688.8 L344.1 688.8 L346.2 688.2 L348.4 686.0 L349.4 679.6 L350.5 666.7 L351.6 651.7 L352.7 636.6 L354.8 613.0 L357.0 602.3 L359.1 602.3 L361.3 607.6 L363.4 610.9 L365.6 611.9 L366.6 602.3 L367.7 591.5 L368.8 589.4 L369.9 587.2 L370.9 598.0 L372.0 615.1 L373.1 604.4 L374.1 593.7 L375.2 591.5 L376.3 589.4 L377.4 600.1 L378.4 617.3 L379.5 625.9 L380.6 593.7 L381.7 582.9 L382.7 617.3 L383.8 664.6 L384.9 671.0 L387.0 677.4 L389.2 683.9 L390.3 687.1 L391.3 681.7 L392.4 679.6 L393.5 680.7 L395.6 678.5 L397.8 675.3 L399.9 671.0 L401.0 668.9 L402.1 658.1 L403.1 643.1 L404.2 634.5 L406.4 621.6 L408.5 604.4 L410.7 601.2 L412.8 598.0 L413.9 589.4 L415.0 574.3 L416.0 557.1 L417.1 540.0 L418.2 520.6 L419.3 540.0 L420.3 567.9 L421.4 570.0 L422.5 555.0 L423.6 546.4 L424.6 543.2 L425.7 555.0 L426.8 563.6 L427.9 567.9 L430.0 566.8 M429.9 562.5 L430.4 563.6 L431.4 567.9 L432.5 582.9 L433.6 600.1 L434.7 619.4 L435.7 636.6 L436.8 647.4 L437.9 658.1 L439.0 664.6 L440.0 665.6 L441.1 660.3 L442.2 653.8 L444.3 654.9 L445.4 658.1 L446.5 660.3 L447.6 651.7 L448.6 647.4 L449.7 645.2 L450.8 645.2 L451.9 638.8 L452.9 632.3 L454.0 630.2 L455.1 629.1 L457.2 628.0 L458.3 625.9 L459.4 617.3 L460.4 604.4 L461.5 598.0 L462.6 593.7 L463.7 589.4 L465.8 587.2 L466.9 580.8 L468.0 572.2 L469.0 561.4 L470.1 557.1 L471.2 578.6 L472.3 565.7 L473.3 576.5 L474.4 563.6 L475.5 578.6 L476.6 567.9 L477.6 559.3 L478.7 557.1 L480.9 558.2 L481.9 563.6 L483.0 572.2 L484.1 582.9 L485.1 598.0 L486.2 610.9 L487.3 619.4 L488.4 625.9 L489.4 631.3 L491.6 629.1 L493.7 627.0 L495.9 623.7 L498.0 617.3 L500.2 613.0 L502.3 608.7 L503.4 606.6 L504.5 600.1 L505.6 587.2 L506.6 578.6 L508.8 570.0 L509.9 563.6 L510.9 559.3 L512.0 557.1 L513.1 552.9 L514.1 535.7 L515.2 533.5 L517.4 534.6 L518.4 529.2 L519.5 524.9 L521.7 523.9 L523.8 521.7 L524.9 518.5 L526.0 517.4 L527.0 520.6 L528.1 524.9 L530.3 526.0 L532.4 529.2 L533.5 533.5 L534.6 540.0 L535.6 543.2 L536.7 545.3 L537.8 565.7 L538.9 582.9 L539.9 604.4 L541.0 621.6 L542.1 634.5 L543.1 647.4 L544.2 656.0 L545.3 660.3 L547.4 651.7 L549.6 638.8 L551.7 621.6 L553.9 602.3 L556.0 587.2 L558.2 570.0 L560.3 550.7 L562.5 540.0 L563.6 542.1 L564.6 548.6 L566.8 552.9 L568.9 555.0 L571.1 557.1 L573.2 557.1 L575.4 558.2 L577.5 555.0 L579.7 552.9 L581.8 550.7 L582.9 548.6 L584.0 567.9 L586.1 591.5 L588.3 613.0 L590.4 621.6 L592.6 628.0 L594.7 630.2 L596.9 636.6 L599.0 643.1 L601.1 645.2 L603.3 645.2 L605.4 646.3 L607.6 643.1 L609.7 634.5 L611.9 629.1 L614.0 632.3 L616.2 632.3 L618.3 631.3 L620.5 629.1 L622.6 625.9 L624.8 627.0 L626.9 631.3 L629.1 631.3 L631.2 629.1 L633.4 625.9 L635.5 622.7 L636.6 619.4 L637.7 621.6 L639.8 636.6 L642.0 651.7 L644.1 653.8 L646.3 657.0 L648.4 660.3 L650.6 663.5 L652.7 666.7 L654.9 667.8 L657.0 665.6 L659.1 660.3 L661.3 651.7 L663.4 643.1 L664.5 625.9 L665.6 604.4 L666.7 600.1 L667.7 602.3 L668.8 595.8 L669.9 582.9 L672.0 570.0 L673.1 569.0 L674.2 574.3 L675.3 585.1 L676.3 578.6 L678.5 565.7 L680.6 563.6 L682.8 562.5 L683.9 561.4 L684.9 555.0 L686.0 548.6 L687.1 545.3 L688.1 544.3 L689.2 548.6 L691.4 561.4 L693.5 591.5 L695.7 615.1 L697.8 630.2 L700.0 640.9 L702.1 647.4 L703.2 652.7 L704.3 652.7 L706.4 645.2 L708.6 636.6 L710.7 632.3 L712.9 628.0 L715.0 617.3 M714.9 617.3 L715.4 613.0 L716.4 606.6 L718.6 600.1 L720.7 598.0 L722.9 582.9 L725.0 573.3 L727.2 572.2 L729.3 571.1 L731.5 567.9 L732.6 570.0 L733.6 574.3 L734.7 572.2 L735.8 575.4 L737.9 574.3 L739.0 576.5 L740.1 572.2 L742.2 573.3 L744.4 580.8 L745.4 591.5 L746.5 602.3 L747.6 608.7 L748.7 611.9 L750.8 613.0 L753.0 609.8 L754.0 615.1 L755.1 618.4 L757.3 613.0 L759.4 608.7 L761.6 604.4 L763.7 598.0 L765.9 593.7 L768.0 595.8 L770.1 593.7 L772.3 578.6 L774.4 570.0 L776.6 563.6 L778.7 559.3 L780.9 558.2 L782.0 550.7 L783.0 543.2 L784.1 542.1 L785.2 545.3 L787.3 546.4 L789.5 548.6 L791.6 546.4 L793.8 543.2 L794.9 546.4 L795.9 557.1 L797.0 570.0 L798.1 582.9 L800.2 591.5 L802.4 600.1 L804.5 607.6 L806.7 607.6 L808.8 606.6 L811.0 598.0 L813.1 591.5 L815.3 589.4 L817.4 585.1 L818.5 576.5 L819.6 565.7 L821.7 562.5 L823.9 562.5 L826.0 559.3 L827.1 550.7 L828.1 543.2 L829.2 544.3 L830.3 548.6 L832.4 542.1 L834.6 540.0 L836.7 535.7 L838.9 534.6 L840.0 531.4 L841.0 526.0 L842.1 523.9 L843.2 522.8 L844.3 523.9 L845.3 527.1 L847.5 535.7 L848.6 546.4 L849.6 553.9 L851.8 559.3 L853.9 563.6 L856.1 566.8 L858.2 567.9 L860.4 576.5 L861.4 591.5 L862.5 582.9 L864.7 570.0 L866.8 563.6 L869.0 559.3 L871.1 552.9 L873.3 544.3 L875.4 537.8 L876.5 535.7 L877.6 524.9 L878.6 519.6 L879.7 520.6 L881.9 520.6 L884.0 524.9 L885.1 529.2 L886.1 528.1 L888.3 526.0 L890.4 523.9 L892.6 526.0 L894.7 524.9 L896.9 524.9 L899.0 535.7 L901.2 557.1 L903.3 576.5 L905.5 580.8 L907.6 591.5 L909.8 606.6 L911.9 617.3 L914.1 621.6 L916.2 621.6 L918.4 617.3 L920.5 608.7 L921.6 591.5 L922.7 581.9 L924.8 578.6 L925.9 557.1 L927.0 555.0 L929.1 550.7 L931.3 544.3 L932.3 535.7 L933.4 534.6 L934.5 535.7 L935.6 534.6 L936.6 529.2 L937.7 524.9 L938.8 523.9 L939.9 526.0 L940.9 540.0 L942.0 547.5 L944.1 544.3 L946.3 542.1 L948.4 540.0 L950.6 540.0 L952.7 542.1 L954.9 548.6 L957.0 555.0 L959.2 570.0 L961.3 578.6 L963.5 587.2 L965.6 588.3 L967.8 585.1 L969.9 578.6 L972.1 567.9 L974.2 559.3 L976.4 552.9 L978.5 553.9 L980.7 557.1 L982.8 557.1 L985.0 561.4 L987.1 555.0 L989.3 551.8 L991.4 559.3 L993.6 552.9 L995.7 546.4 L997.9 541.0 L1000.0 536.7 M1000.0 537.3 L1000.6 537.3 L1001.7 541.6 L1002.7 550.1 L1003.8 560.7 L1004.9 573.4 L1005.9 581.9 L1007.0 588.3 L1008.0 590.4 L1009.1 591.4 L1011.2 592.5 L1012.3 594.6 L1013.3 597.8 L1014.4 594.6 L1015.5 592.5 L1017.6 590.4 L1019.7 588.3 L1021.8 581.9 L1024.0 573.4 L1026.1 562.8 L1027.1 552.2 L1028.2 543.7 L1029.3 537.3 L1030.3 539.4 L1031.4 545.8 L1032.4 547.9 L1034.6 543.7 L1035.6 535.2 L1036.7 533.1 L1038.8 535.2 L1040.9 528.8 L1043.1 522.5 L1045.2 520.3 L1047.3 522.5 L1049.4 526.7 L1051.5 523.5 L1053.7 522.0 L1054.7 526.7 L1055.8 537.3 L1056.8 547.9 L1057.9 552.2 L1060.0 564.9 L1062.2 577.6 L1064.3 586.1 L1066.4 588.3 L1068.5 586.1 L1070.6 592.5 L1072.8 593.6 L1074.9 594.6 L1075.9 590.4 L1077.0 584.0 L1079.1 571.3 L1081.3 567.0 L1082.3 569.2 L1083.4 577.6 L1084.4 581.9 L1085.5 579.8 L1087.6 573.4 L1089.7 569.2 L1091.9 566.0 L1094.0 567.0 L1096.1 569.2 L1098.2 570.2 L1100.4 572.3 L1102.5 574.5 L1104.6 575.5 L1106.7 576.6 L1108.8 586.1 L1111.0 592.5 L1113.1 596.7 L1115.2 601.0 L1117.3 604.2 L1119.5 598.9 L1121.6 592.5 L1123.7 581.9 L1125.8 573.4 L1127.9 564.9 L1130.1 560.7 L1131.1 554.3 L1132.2 551.1 L1134.3 543.7 L1136.4 537.3 L1138.6 532.0 L1140.7 531.0 L1142.8 528.8 L1143.9 520.3 L1144.9 519.3 L1147.0 518.2 L1149.2 517.2 L1151.3 519.3 L1153.4 523.5 L1154.5 520.3 L1155.5 515.0 L1156.6 516.1 L1157.7 522.5 L1159.8 528.8 L1160.8 531.0 L1161.9 543.7 L1163.0 560.7 L1164.0 581.9 L1165.1 594.6 L1166.1 598.9 L1168.3 605.2 L1170.4 609.5 L1172.5 613.7 L1174.6 615.8 L1176.7 612.7 L1178.9 607.4 L1181.0 605.2 L1183.1 604.2 L1185.2 601.0 L1186.3 598.9 L1187.4 603.1 L1188.4 611.6 L1189.5 620.1 L1190.5 622.2" fill="none" stroke="#1010F0" stroke-width="2.6" stroke-linejoin="round" stroke-linecap="round"/>
<path d="M141.7 962.3 L152.9 962.3 L165.8 962.3 L169.0 960.6 L170.1 945.5 L171.1 917.6 L172.2 894.0 L173.3 868.2 L174.4 838.1 L175.4 807.0 L176.5 831.7 L177.6 855.3 L178.7 885.4 L179.7 831.7 L180.4 765.1 L180.8 743.6 L181.5 773.7 L182.1 836.0 L183.0 868.2 L184.0 855.3 L185.1 876.8 L186.2 898.3 L187.3 911.1 L188.3 924.0 L189.4 932.6 L190.5 945.5 L191.6 958.4 L192.6 962.3 L204.4 962.3 L215.2 962.3 L221.6 961.6 L223.8 949.8 L224.9 932.6 L225.9 917.6 L227.0 894.0 L228.1 859.6 L229.1 851.0 L230.2 863.9 L231.3 825.2 L232.4 842.4 L233.4 848.9 L234.5 833.8 L235.6 855.3 L236.7 874.6 L237.7 889.7 L238.8 906.9 L239.9 919.7 L241.0 934.8 L242.0 945.5 L243.1 956.3 L245.3 962.3 L258.1 962.3 L273.2 962.3 L276.4 958.4 L278.6 947.7 L280.7 934.8 L281.8 924.0 L282.9 913.3 L283.9 902.6 L285.0 906.9 L286.1 915.4 L287.1 932.6 L288.2 921.9 L289.3 928.3 L290.4 936.9 L292.5 945.5 L294.7 956.3 L296.8 962.3 L311.9 962.3 L324.7 962.3 L326.9 958.4 L328.0 928.3 L329.0 898.3 L331.2 842.4 L333.3 799.4 L335.5 788.7 L337.6 784.4 L338.7 783.3 L339.8 786.6 L341.9 799.4 L344.1 820.9 L346.2 846.7 L348.4 885.4 L349.4 928.3 L350.5 958.4 L352.7 962.3 L365.6 962.3 L376.3 962.3 L378.4 949.8 L380.6 906.9 L382.7 855.3 L384.9 812.3 L387.0 808.0 L389.2 803.7 L390.3 808.0 L391.3 820.9 L393.5 846.7 L395.6 885.4 L397.8 928.3 L399.9 958.4 L402.1 962.3 L419.3 962.3 L430.0 962.3 M429.9 962.7 L431.4 958.4 L432.5 928.3 L433.6 885.4 L434.7 855.3 L435.7 833.8 L436.8 816.6 L437.9 812.3 L439.0 820.9 L440.0 803.7 L441.1 803.7 L442.2 825.2 L443.3 812.3 L444.3 833.8 L445.4 863.9 L446.5 872.5 L447.6 876.8 L448.6 885.4 L449.7 906.9 L450.8 928.3 L451.9 949.8 L452.9 961.6 L455.1 962.7 L468.0 962.7 L480.9 962.7 L481.9 958.4 L483.0 936.9 L485.1 889.7 L487.3 846.7 L489.4 814.5 L490.5 805.9 L491.6 804.8 L492.7 816.6 L493.7 805.9 L494.8 808.0 L495.9 812.3 L497.0 816.6 L498.0 825.2 L499.1 842.4 L500.2 863.9 L501.3 885.4 L502.3 906.9 L503.4 928.3 L504.5 949.8 L505.6 961.6 L508.8 962.7 L521.7 962.7 L532.4 962.7 L533.5 960.6 L534.6 945.5 L536.7 906.9 L538.9 855.3 L541.0 825.2 L543.1 805.9 L544.2 795.1 L545.3 788.7 L546.4 787.6 L547.4 790.9 L548.5 799.4 L549.6 816.6 L550.7 838.1 L551.7 863.9 L552.8 885.4 L553.9 917.6 L555.0 949.8 L556.0 962.7 L575.4 962.7 L584.0 962.7 L585.0 958.4 L587.2 928.3 L589.3 902.6 L591.5 872.5 L593.6 846.7 L595.8 827.4 L596.9 825.2 L597.9 829.5 L599.0 838.1 L601.1 855.3 L603.3 881.1 L605.4 906.9 L607.6 936.9 L608.7 958.4 L609.7 962.7 L629.1 962.7 L636.6 962.7 L637.7 958.4 L639.8 928.3 L642.0 885.4 L644.1 842.4 L646.3 814.5 L647.3 805.9 L648.4 799.4 L649.5 799.0 L650.6 803.7 L651.6 814.5 L652.7 827.4 L654.9 855.3 L657.0 885.4 L659.1 917.6 L660.2 939.1 L661.3 958.4 L662.4 962.7 L682.8 962.7 L688.1 962.7 L690.3 949.8 L692.4 919.7 L694.6 889.7 L696.7 842.4 L698.9 803.7 L700.0 796.2 L701.0 795.1 L702.1 799.4 L703.2 805.9 L704.3 816.6 L706.4 831.7 L708.6 863.9 L710.7 896.1 L712.9 932.6 L713.9 958.4 L715.0 962.7 M714.9 962.7 L731.5 962.7 L740.1 962.7 L741.1 958.4 L742.2 928.3 L743.3 896.1 L744.4 863.9 L745.4 848.9 L746.5 868.2 L747.6 842.4 L748.7 820.9 L749.7 773.7 L750.4 749.0 L751.0 778.0 L751.9 820.9 L753.0 861.7 L754.0 842.4 L755.1 831.7 L756.2 846.7 L757.3 863.9 L758.3 872.5 L759.4 881.1 L760.5 889.7 L761.6 906.9 L762.6 928.3 L763.7 949.8 L764.8 962.7 L774.4 962.7 L793.8 962.7 L794.9 958.4 L795.9 928.3 L797.0 894.0 L798.1 842.4 L799.1 823.1 L800.2 863.9 L801.3 838.1 L802.4 799.4 L803.4 769.4 L804.5 769.4 L805.6 767.2 L806.7 773.7 L807.7 799.4 L808.8 842.4 L809.9 863.9 L811.0 885.4 L812.0 906.9 L813.1 928.3 L814.2 949.8 L815.3 962.7 L828.1 962.7 L843.2 962.7 L845.3 958.4 L847.5 906.9 L848.6 868.2 L849.6 842.4 L850.7 820.9 L851.8 803.7 L852.9 885.4 L853.9 778.0 L855.0 735.0 L856.1 756.5 L857.1 733.9 L858.2 799.4 L859.3 737.1 L860.4 885.4 L861.4 820.9 L862.5 842.4 L863.6 885.4 L864.7 917.6 L865.7 939.1 L866.8 958.4 L867.9 962.7 L881.9 962.7 L896.9 962.7 L898.0 958.4 L899.0 928.3 L901.2 885.4 L903.3 842.4 L905.5 816.6 L907.6 799.4 L908.7 791.9 L909.8 790.9 L910.9 799.4 L911.9 810.2 L914.1 833.8 L916.2 855.3 L918.4 885.4 L920.5 919.7 L922.7 945.5 L923.7 960.6 L924.8 962.7 L946.3 962.7 L949.5 962.7 L950.6 958.4 L951.7 928.3 L952.7 885.4 L953.8 855.3 L954.9 820.9 L956.0 799.4 L957.0 788.7 L959.2 786.6 L960.3 785.5 L961.3 786.6 L963.5 797.3 L965.6 820.9 L967.8 855.3 L969.9 896.1 L972.1 932.6 L974.2 958.4 L975.3 962.7 L989.3 962.7 L1000.0 962.7 M1000.0 963.1 L1000.6 947.2 L1001.7 921.7 L1002.7 896.3 L1003.8 870.8 L1004.9 851.7 L1005.9 836.9 L1007.0 824.1 L1008.0 809.3 L1009.1 800.8 L1010.2 798.7 L1011.2 805.0 L1012.3 815.6 L1013.3 824.1 L1014.4 836.9 L1015.5 853.8 L1017.6 883.6 L1019.7 917.5 L1021.8 947.2 L1022.9 959.9 L1024.0 963.1 L1043.1 963.1 L1051.5 963.1 L1052.6 959.9 L1053.7 947.2 L1055.8 909.0 L1057.9 862.3 L1060.0 824.1 L1062.2 807.2 L1063.2 802.9 L1064.3 800.8 L1065.3 807.2 L1066.4 819.9 L1068.5 845.4 L1070.6 883.6 L1072.8 915.4 L1074.9 943.0 L1075.9 959.9 L1077.0 963.1 L1096.1 963.1 L1104.6 963.1 L1105.7 959.9 L1106.7 947.2 L1108.8 913.3 L1111.0 870.8 L1113.1 826.3 L1114.1 815.6 L1115.2 807.2 L1116.3 802.9 L1117.3 802.9 L1118.4 807.2 L1120.5 824.1 L1122.6 853.8 L1124.8 883.6 L1126.9 915.4 L1129.0 947.2 L1130.1 959.9 L1131.1 963.1 L1149.2 963.1 L1155.5 963.1 L1156.6 955.7 L1157.7 945.1 L1158.7 934.5 L1159.8 930.2 L1160.8 921.7 L1161.9 883.6 L1163.0 841.1 L1164.0 815.6 L1165.1 800.8 L1166.1 798.7 L1167.2 800.8 L1168.3 800.8 L1169.3 805.0 L1170.4 811.4 L1171.4 824.1 L1172.5 841.1 L1174.6 870.8 L1176.7 904.8 L1178.9 936.6 L1181.0 959.9 L1182.1 963.1 L1192.7 963.1" fill="none" stroke="#EDA021" stroke-width="2.5" stroke-linejoin="round" stroke-linecap="round"/>
<path d="M142.1 894.0 L143.2 881.1 L144.3 863.9 L146.4 848.9 L147.5 843.5 L148.6 853.1 L149.7 881.1 L150.7 883.2 L151.8 881.1 L152.9 885.4 L154.0 888.6 L155.0 872.5 L156.1 865.0 L157.2 866.0 L158.3 872.5 L159.3 863.9 L160.4 860.7 L161.5 885.4 L162.6 900.4 L163.6 894.0 L164.7 881.1 L165.8 863.9 L166.9 842.4 L167.9 855.3 L169.0 874.6 L170.1 863.9 L171.1 855.3 L172.2 846.7 L173.3 855.3 L174.4 876.8 L175.4 870.3 L176.5 863.9 L177.6 853.1 L178.7 838.1 L179.7 829.5 L180.8 827.4 L181.9 820.9 L183.0 805.9 L184.0 795.1 L185.1 786.6 L186.2 786.6 L187.3 795.1 L188.3 808.0 L189.4 823.1 L190.5 833.8 L191.6 853.1 L192.6 883.2 L193.7 881.1 L194.8 872.5 L195.9 871.4 L196.9 872.5 L198.0 878.9 L199.1 889.7 L200.1 902.6 L201.2 909.0 L202.3 910.1 L203.4 909.0 L204.4 904.7 L205.5 898.3 L206.6 885.4 L207.7 883.2 L208.7 889.7 L209.8 885.4 L210.9 883.2 L212.0 885.4 L213.0 881.1 L214.1 883.2 L215.2 894.0 L216.3 904.7 L217.3 891.8 L218.4 889.7 L219.5 906.9 L220.6 913.3 L221.6 898.3 L222.7 883.2 L223.8 902.6 L224.9 919.7 L225.9 924.0 L227.0 917.6 L228.1 911.1 L230.2 900.4 L232.4 891.8 L234.5 885.4 L235.6 881.1 L236.7 889.7 L237.7 896.1 L238.8 895.0 L241.0 898.3 L243.1 904.7 L245.3 906.9 L246.3 889.7 L247.4 870.3 L248.5 861.7 L249.6 868.2 L250.6 885.4 L251.7 902.6 L252.8 894.0 L253.9 891.8 L256.0 900.4 L257.1 904.7 L258.1 906.9 L260.3 902.6 L262.4 894.0 L263.5 868.2 L264.2 846.7 L265.0 872.5 L266.3 889.7 L267.2 883.2 L267.8 885.4 L268.9 889.7 L270.0 894.0 L271.0 900.4 L273.2 898.3 L274.3 889.7 L275.3 872.5 L276.4 866.0 L277.5 881.1 L278.6 889.7 L279.6 885.4 L280.7 876.8 L281.8 868.2 L283.9 853.1 L285.0 844.6 L286.1 842.4 L287.1 846.7 L288.2 848.9 L289.3 842.4 L290.4 836.0 L291.4 827.4 L292.5 819.9 L293.6 818.8 L294.7 820.9 L295.7 831.7 L296.8 842.4 L297.9 855.3 L299.0 863.9 L300.0 838.1 L301.1 817.7 L302.2 833.8 L303.3 863.9 L304.3 883.2 L305.4 887.5 L306.5 872.5 L307.6 857.4 L308.6 861.7 L309.7 866.0 L310.8 872.5 L311.9 876.8 L312.9 870.3 L314.0 872.5 L315.1 885.4 L316.1 898.3 L317.2 900.4 L318.3 894.0 L319.4 898.3 L320.4 904.7 L321.5 902.6 L322.6 906.9 L323.7 913.3 L324.7 924.0 L325.8 898.3 L326.9 889.7 L329.0 887.5 L330.1 888.6 L331.2 881.1 L332.3 863.9 L333.3 842.4 L334.4 825.2 L335.5 808.0 L336.6 820.9 L337.6 812.3 L338.7 803.7 L339.8 799.4 L340.9 801.6 L341.9 808.0 L343.0 805.9 L344.1 803.7 L345.1 810.2 L346.2 827.4 L347.3 846.7 L348.4 863.9 L349.4 885.4 L350.5 906.9 L351.6 934.8 L352.7 939.1 L353.7 928.3 L354.8 919.7 L355.9 941.2 L357.0 949.8 L358.0 950.9 L359.1 953.0 L360.2 954.1 L361.3 956.3 L362.3 954.1 L363.4 947.7 L364.5 945.5 L365.6 943.4 L367.7 943.4 L369.9 943.4 L372.0 943.4 L374.1 941.2 L375.2 940.1 L376.3 941.2 L377.4 943.4 L378.4 941.2 L380.6 928.3 L382.7 906.9 L384.9 872.5 L387.0 846.7 L389.2 831.7 L390.3 825.2 L391.3 827.4 L393.5 840.3 L395.6 855.3 L397.8 874.6 L399.9 906.9 L402.1 928.3 L403.1 949.8 L405.3 941.2 L406.4 928.3 L407.4 927.3 L408.5 949.8 L409.6 956.3 L412.8 957.3 L417.1 957.3 L419.3 949.8 L420.3 947.7 L421.4 952.0 L423.6 956.3 L425.7 954.1 L427.9 956.3 L430.0 949.8 M429.9 952.0 L430.4 949.8 L431.4 928.3 L432.5 906.9 L433.6 885.4 L435.7 863.9 L436.8 855.3 L437.9 853.1 L439.0 846.7 L440.0 840.3 L441.1 833.8 L442.2 831.7 L443.3 840.3 L444.3 846.7 L445.4 844.6 L446.5 842.4 L447.6 846.7 L448.6 855.3 L449.7 868.2 L450.8 898.3 L451.9 924.0 L452.9 945.5 L454.0 956.3 L455.1 958.4 L456.1 954.1 L457.2 941.2 L458.3 938.0 L459.4 941.2 L460.4 949.8 L461.5 954.1 L462.6 956.3 L463.7 958.4 L465.8 958.4 L468.0 958.4 L470.1 954.1 L472.3 949.8 L473.3 947.7 L474.4 948.7 L476.6 952.0 L478.7 952.0 L480.9 949.8 L481.9 947.7 L483.0 945.5 L484.1 924.0 L485.1 906.9 L486.2 885.4 L487.3 872.5 L488.4 863.9 L489.4 859.6 L490.5 857.4 L491.6 838.1 L492.7 820.9 L493.3 808.0 L493.7 825.2 L494.4 838.1 L494.8 812.3 L495.9 831.7 L497.0 855.3 L498.0 876.8 L499.1 896.1 L500.2 904.7 L501.3 909.0 L502.3 919.7 L503.4 932.6 L504.5 943.4 L505.6 954.1 L506.6 958.4 L507.7 954.1 L508.8 945.5 L509.9 939.1 L510.9 941.2 L512.0 952.0 L513.1 954.1 L515.2 956.3 L517.4 957.3 L519.5 957.3 L521.7 954.1 L523.8 949.8 L526.0 945.5 L528.1 943.4 L530.3 945.5 L532.4 949.8 L533.5 952.0 L534.6 954.1 L535.6 932.6 L536.7 911.1 L538.9 874.6 L541.0 846.7 L543.1 820.9 L544.2 803.7 L545.3 795.1 L546.4 786.6 L547.4 786.1 L548.5 790.9 L549.6 799.4 L550.7 820.9 L551.7 855.3 L552.8 868.2 L553.9 870.3 L555.0 881.1 L556.0 898.3 L557.1 924.0 L558.2 930.5 L559.3 928.3 L560.3 876.8 L561.4 889.7 L562.5 911.1 L563.6 917.6 L564.6 915.4 L565.7 909.0 L566.8 921.9 L567.9 924.0 L568.9 906.9 L571.1 889.7 L572.1 894.0 L573.2 906.9 L575.4 904.7 L577.5 896.1 L579.7 887.5 L581.8 891.8 L584.0 898.3 L586.1 898.3 L588.3 889.7 L589.3 881.1 L590.4 881.1 L591.5 874.6 L592.6 859.6 L594.7 833.8 L596.9 816.6 L597.9 805.9 L599.0 801.6 L600.1 802.7 L601.1 805.9 L602.2 814.5 L603.3 825.2 L604.4 816.6 L605.4 820.9 L606.5 825.2 L607.6 838.1 L608.7 868.2 L609.7 898.3 L610.8 889.7 L611.9 887.5 L613.0 894.0 L614.0 906.9 L616.2 911.1 L617.3 906.9 L618.3 909.0 L619.4 912.2 L620.5 913.3 L621.6 911.1 L622.6 906.9 L623.7 898.3 L624.8 889.7 L625.9 876.8 L626.9 870.3 L628.0 885.4 L629.1 906.9 L631.2 917.6 L633.4 921.9 L635.5 924.0 L636.6 926.2 L637.7 924.0 L638.7 911.1 L639.8 887.5 L640.9 878.9 L642.0 894.0 L643.0 885.4 L644.1 855.3 L646.3 825.2 L648.4 810.2 L649.5 808.0 L650.6 803.7 L651.6 808.0 L652.7 816.6 L653.8 825.2 L654.9 833.8 L655.9 825.2 L657.0 812.3 L658.1 803.7 L659.1 831.7 L660.2 868.2 L661.3 906.9 L662.4 949.8 L663.4 928.3 L664.5 936.9 L665.6 945.5 L666.7 949.8 L667.7 956.3 L668.8 952.0 L669.9 954.1 L671.0 949.8 L672.0 943.4 L674.2 934.8 L675.3 932.6 L676.3 936.9 L678.5 941.2 L680.6 945.5 L682.8 943.4 L684.9 941.2 L687.1 938.0 L689.2 936.9 L691.4 921.9 L693.5 894.0 L695.7 863.9 L697.8 838.1 L700.0 820.9 L701.0 816.6 L702.1 825.2 L703.2 818.8 L704.3 820.9 L705.3 795.1 L706.4 810.2 L707.5 825.2 L708.6 836.0 L709.6 833.8 L710.7 842.4 L711.8 863.9 L712.9 906.9 L713.9 928.3 L715.0 949.8 M714.9 941.2 L715.4 941.2 L716.4 924.0 L717.5 915.4 L718.6 909.0 L719.7 928.3 L720.7 934.8 L722.9 934.8 L725.0 938.0 L727.2 934.8 L729.3 932.6 L730.4 929.4 L731.5 924.0 L733.6 919.7 L735.8 916.5 L737.9 919.7 L739.0 924.0 L740.1 928.3 L741.1 930.5 L742.2 924.0 L744.4 906.9 L746.5 896.1 L748.7 885.4 L750.8 863.9 L753.0 838.1 L754.0 812.3 L755.1 778.0 L756.2 788.7 L757.3 825.2 L758.3 853.1 L759.4 868.2 L761.6 878.9 L762.6 885.4 L763.7 928.3 L764.8 952.0 L765.9 958.4 L766.9 949.8 L768.0 928.3 L769.1 924.0 L770.1 921.9 L772.3 928.3 L774.4 932.6 L776.6 934.8 L778.7 933.7 L780.9 939.1 L783.0 941.2 L785.2 943.4 L787.3 945.5 L789.5 949.8 L791.6 954.1 L793.8 958.4 L795.9 949.8 L798.1 928.3 L800.2 885.4 L802.4 838.1 L804.5 799.4 L806.7 760.8 L807.7 752.2 L808.8 760.8 L809.9 799.4 L811.0 853.1 L812.0 896.1 L813.1 911.1 L814.2 915.4 L815.3 928.3 L816.3 958.4 L817.4 958.4 L818.5 949.8 L819.6 939.1 L820.6 936.9 L821.7 958.4 L822.8 952.0 L823.9 954.1 L826.0 958.4 L828.1 958.4 L830.3 958.4 L832.4 956.3 L834.6 958.4 L836.7 956.3 L838.9 958.4 L841.0 956.3 L843.2 949.8 L845.3 939.1 L847.5 947.7 L849.6 917.6 L851.8 885.4 L853.9 842.4 L855.0 799.4 L856.1 778.0 L857.1 767.2 L858.2 769.4 L859.3 788.7 L860.4 816.6 L861.4 820.9 L862.5 810.2 L863.6 820.9 L864.7 863.9 L866.8 906.9 L869.0 928.3 L870.0 939.1 L871.1 936.9 L873.3 939.1 L874.3 945.5 L875.4 939.1 L876.5 947.7 L877.6 941.2 L879.7 949.8 L880.8 956.3 L881.9 952.0 L882.9 941.2 L884.0 928.3 L885.1 921.9 L886.1 941.2 L887.2 932.6 L888.3 928.3 L889.4 921.9 L890.4 928.3 L891.5 921.9 L892.6 932.6 L894.7 947.7 L895.8 956.3 L896.9 945.5 L899.0 928.3 L901.2 896.1 L903.3 863.9 L905.5 846.7 L907.6 825.2 L908.7 808.0 L909.8 805.9 L910.9 820.9 L911.9 831.7 L913.0 838.1 L914.1 820.9 L915.1 816.6 L916.2 825.2 L917.3 838.1 L918.4 851.0 L919.4 874.6 L920.5 906.9 L921.6 941.2 L922.7 947.7 L924.8 949.8 L927.0 956.3 L929.1 952.0 L930.2 945.5 L931.3 947.7 L933.4 943.4 L935.6 936.9 L937.7 934.8 L939.9 932.6 L942.0 935.9 L944.1 936.9 L945.2 941.2 L946.3 939.1 L947.4 934.8 L948.4 924.0 L950.6 915.4 L952.7 904.7 L954.9 889.7 L957.0 872.5 L959.2 855.3 L961.3 844.6 L962.4 838.1 L963.5 836.0 L964.6 846.7 L965.6 857.4 L966.7 855.3 L967.8 851.0 L969.9 894.0 L972.1 906.9 L974.2 919.7 L976.4 913.3 L977.4 906.9 L978.5 906.9 L979.6 917.6 L980.7 919.7 L982.8 921.9 L985.0 924.0 L987.1 921.9 L988.2 911.1 L989.3 906.9 L990.3 928.3 L991.4 945.5 L993.6 941.2 L995.7 939.1 L997.9 934.8 L1000.0 936.9 M1000.0 936.6 L1000.6 932.4 L1001.7 926.0 L1002.7 915.4 L1004.9 904.8 L1007.0 898.4 L1009.1 883.6 L1011.2 841.1 L1012.3 809.3 L1013.3 792.3 L1014.4 819.9 L1015.5 851.7 L1016.5 883.6 L1017.6 892.0 L1019.7 904.8 L1021.8 915.4 L1022.9 951.5 L1024.0 953.6 L1026.1 955.7 L1027.1 957.8 L1028.2 947.2 L1029.3 943.0 L1030.3 940.8 L1031.4 947.2 L1032.4 951.5 L1034.6 949.3 L1036.7 951.5 L1038.8 949.3 L1040.9 951.5 L1043.1 955.7 L1045.2 951.5 L1047.3 947.2 L1048.4 949.3 L1050.5 949.3 L1051.5 947.2 L1053.7 934.5 L1055.8 909.0 L1057.9 904.8 L1059.0 911.1 L1060.0 883.6 L1062.2 841.1 L1063.2 815.6 L1064.3 792.3 L1066.4 791.2 L1068.5 791.2 L1069.6 798.7 L1070.6 849.6 L1072.8 862.3 L1074.9 879.3 L1075.9 904.8 L1077.0 926.0 L1078.1 928.1 L1079.1 926.0 L1080.2 928.1 L1081.3 938.7 L1082.3 944.0 L1083.4 936.6 L1084.4 932.4 L1085.5 926.0 L1086.6 932.4 L1087.6 926.0 L1088.7 923.9 L1089.7 919.6 L1090.8 915.4 L1091.9 917.5 L1092.9 921.7 L1094.0 926.0 L1096.1 928.1 L1098.2 932.4 L1100.4 929.2 L1102.5 926.0 L1104.6 923.9 L1106.7 923.9 L1108.8 919.6 L1111.0 904.8 L1113.1 879.3 L1115.2 851.7 L1116.3 819.9 L1117.3 798.7 L1118.4 785.9 L1119.5 778.5 L1120.5 798.7 L1121.6 800.8 L1122.6 802.9 L1123.7 799.7 L1124.8 819.9 L1125.8 853.8 L1127.9 883.6 L1130.1 911.1 L1131.1 926.0 L1132.2 940.8 L1133.2 930.2 L1134.3 915.4 L1135.4 926.0 L1136.4 943.0 L1137.5 951.5 L1138.6 953.6 L1139.6 955.7 L1140.7 957.8 L1142.8 947.2 L1144.9 940.8 L1147.0 934.5 L1149.2 936.6 L1151.3 932.4 L1153.4 930.2 L1155.5 921.7 L1157.7 904.8 L1159.8 862.3 L1160.8 857.0 L1161.9 856.0 L1163.0 858.1 L1164.0 845.4 L1166.1 824.1 L1168.3 805.0 L1169.3 788.1 L1170.4 764.7 L1171.4 777.4 L1172.5 788.1 L1173.6 773.2 L1174.6 756.2 L1175.7 747.7 L1176.7 756.2 L1177.8 785.9 L1178.9 815.6 L1179.9 841.1 L1181.0 870.8 L1182.1 896.3 L1183.1 883.6 L1184.2 870.8 L1185.2 866.6 L1186.3 866.6 L1187.4 872.9 L1188.4 881.4 L1189.5 881.4 L1190.5 858.1 L1191.6 828.4 L1192.7 826.3" fill="none" stroke="#6A10FA" stroke-width="2.5" stroke-linejoin="round" stroke-linecap="round"/></g>
<line x1="141.5" y1="918.7" x2="1192" y2="918.7" stroke="#6E6E6E" stroke-width="3.2" stroke-dasharray="19.3 19.6"/>
<line x1="141.4" y1="25.049999999999997" x2="141.4" y2="253.95" stroke="#000" stroke-width="2.7"/>
<line x1="1193.1" y1="25.049999999999997" x2="1193.1" y2="253.95" stroke="#000" stroke-width="2.7"/>
<line x1="120.9" y1="252.6" x2="142.75" y2="252.6" stroke="#000" stroke-width="2.7"/>
<text x="112.00" y="264.70" font-size="36" text-anchor="end" >0</text>
<line x1="120.9" y1="207.35999999999999" x2="142.75" y2="207.35999999999999" stroke="#000" stroke-width="2.7"/>
<text x="112.00" y="219.46" font-size="36" text-anchor="end" >30</text>
<line x1="120.9" y1="162.12" x2="142.75" y2="162.12" stroke="#000" stroke-width="2.7"/>
<text x="112.00" y="174.22" font-size="36" text-anchor="end" >60</text>
<line x1="120.9" y1="116.88" x2="142.75" y2="116.88" stroke="#000" stroke-width="2.7"/>
<text x="112.00" y="128.98" font-size="36" text-anchor="end" >90</text>
<line x1="120.9" y1="71.63999999999999" x2="142.75" y2="71.63999999999999" stroke="#000" stroke-width="2.7"/>
<text x="112.00" y="83.74" font-size="36" text-anchor="end" >120</text>
<line x1="120.9" y1="26.400000000000006" x2="142.75" y2="26.400000000000006" stroke="#000" stroke-width="2.7"/>
<text x="112.00" y="38.50" font-size="36" text-anchor="end" >150</text>
<line x1="130.4" y1="229.98" x2="142.75" y2="229.98" stroke="#000" stroke-width="2.7"/>
<line x1="130.4" y1="184.74" x2="142.75" y2="184.74" stroke="#000" stroke-width="2.7"/>
<line x1="130.4" y1="139.5" x2="142.75" y2="139.5" stroke="#000" stroke-width="2.7"/>
<line x1="130.4" y1="94.25999999999999" x2="142.75" y2="94.25999999999999" stroke="#000" stroke-width="2.7"/>
<line x1="130.4" y1="49.01999999999998" x2="142.75" y2="49.01999999999998" stroke="#000" stroke-width="2.7"/>
<line x1="1191.75" y1="252.6" x2="1213.3999999999999" y2="252.6" stroke="#000" stroke-width="2.7"/>
<text x="1224.00" y="264.70" font-size="36" text-anchor="start" >0</text>
<line x1="1191.75" y1="196.05" x2="1213.3999999999999" y2="196.05" stroke="#000" stroke-width="2.7"/>
<text x="1224.00" y="208.15" font-size="36" text-anchor="start" >150</text>
<line x1="1191.75" y1="139.5" x2="1213.3999999999999" y2="139.5" stroke="#000" stroke-width="2.7"/>
<text x="1224.00" y="151.60" font-size="36" text-anchor="start" >300</text>
<line x1="1191.75" y1="82.94999999999999" x2="1213.3999999999999" y2="82.94999999999999" stroke="#000" stroke-width="2.7"/>
<text x="1224.00" y="95.05" font-size="36" text-anchor="start" >450</text>
<line x1="1191.75" y1="26.400000000000006" x2="1213.3999999999999" y2="26.400000000000006" stroke="#000" stroke-width="2.7"/>
<text x="1224.00" y="38.50" font-size="36" text-anchor="start" >600</text>
<line x1="1191.75" y1="224.325" x2="1203.6" y2="224.325" stroke="#000" stroke-width="2.7"/>
<line x1="1191.75" y1="167.77499999999998" x2="1203.6" y2="167.77499999999998" stroke="#000" stroke-width="2.7"/>
<line x1="1191.75" y1="111.225" x2="1203.6" y2="111.225" stroke="#000" stroke-width="2.7"/>
<line x1="1191.75" y1="54.67499999999998" x2="1203.6" y2="54.67499999999998" stroke="#000" stroke-width="2.7"/>
<line x1="141.4" y1="261.04999999999995" x2="141.4" y2="489.45000000000005" stroke="#000" stroke-width="2.7"/>
<line x1="1193.1" y1="261.04999999999995" x2="1193.1" y2="489.45000000000005" stroke="#000" stroke-width="2.7"/>
<line x1="120.9" y1="488.1" x2="142.75" y2="488.1" stroke="#000" stroke-width="2.7"/>
<text x="112.00" y="500.20" font-size="36" text-anchor="end" >0</text>
<line x1="120.9" y1="423.61428571428576" x2="142.75" y2="423.61428571428576" stroke="#000" stroke-width="2.7"/>
<text x="112.00" y="435.71" font-size="36" text-anchor="end" >100</text>
<line x1="120.9" y1="359.1285714285715" x2="142.75" y2="359.1285714285715" stroke="#000" stroke-width="2.7"/>
<text x="112.00" y="371.23" font-size="36" text-anchor="end" >200</text>
<line x1="120.9" y1="294.6428571428572" x2="142.75" y2="294.6428571428572" stroke="#000" stroke-width="2.7"/>
<text x="112.00" y="306.74" font-size="36" text-anchor="end" >300</text>
<line x1="130.4" y1="455.8571428571429" x2="142.75" y2="455.8571428571429" stroke="#000" stroke-width="2.7"/>
<line x1="130.4" y1="391.3714285714286" x2="142.75" y2="391.3714285714286" stroke="#000" stroke-width="2.7"/>
<line x1="130.4" y1="326.88571428571436" x2="142.75" y2="326.88571428571436" stroke="#000" stroke-width="2.7"/>
<line x1="130.4" y1="262.40000000000003" x2="142.75" y2="262.40000000000003" stroke="#000" stroke-width="2.7"/>
<line x1="1191.75" y1="488.1" x2="1213.3999999999999" y2="488.1" stroke="#000" stroke-width="2.7"/>
<text x="1224.00" y="500.20" font-size="36" text-anchor="start" >0</text>
<line x1="1191.75" y1="437.94444444444446" x2="1213.3999999999999" y2="437.94444444444446" stroke="#000" stroke-width="2.7"/>
<text x="1224.00" y="450.04" font-size="36" text-anchor="start" >40</text>
<line x1="1191.75" y1="387.7888888888889" x2="1213.3999999999999" y2="387.7888888888889" stroke="#000" stroke-width="2.7"/>
<text x="1224.00" y="399.89" font-size="36" text-anchor="start" >80</text>
<line x1="1191.75" y1="337.6333333333333" x2="1213.3999999999999" y2="337.6333333333333" stroke="#000" stroke-width="2.7"/>
<text x="1224.00" y="349.73" font-size="36" text-anchor="start" >120</text>
<line x1="1191.75" y1="287.4777777777778" x2="1213.3999999999999" y2="287.4777777777778" stroke="#000" stroke-width="2.7"/>
<text x="1224.00" y="299.58" font-size="36" text-anchor="start" >160</text>
<line x1="1191.75" y1="463.02222222222224" x2="1203.6" y2="463.02222222222224" stroke="#000" stroke-width="2.7"/>
<line x1="1191.75" y1="412.8666666666667" x2="1203.6" y2="412.8666666666667" stroke="#000" stroke-width="2.7"/>
<line x1="1191.75" y1="362.7111111111111" x2="1203.6" y2="362.7111111111111" stroke="#000" stroke-width="2.7"/>
<line x1="1191.75" y1="312.5555555555556" x2="1203.6" y2="312.5555555555556" stroke="#000" stroke-width="2.7"/>
<line x1="1191.75" y1="262.40000000000003" x2="1203.6" y2="262.40000000000003" stroke="#000" stroke-width="2.7"/>
<line x1="141.4" y1="496.15" x2="141.4" y2="724.65" stroke="#000" stroke-width="2.7"/>
<line x1="1193.1" y1="496.15" x2="1193.1" y2="724.65" stroke="#000" stroke-width="2.7"/>
<line x1="120.9" y1="723.3" x2="142.75" y2="723.3" stroke="#000" stroke-width="2.7"/>
<text x="112.00" y="735.40" font-size="36" text-anchor="end" >0</text>
<line x1="120.9" y1="658.7857142857142" x2="142.75" y2="658.7857142857142" stroke="#000" stroke-width="2.7"/>
<text x="112.00" y="670.89" font-size="36" text-anchor="end" >10</text>
<line x1="120.9" y1="594.2714285714285" x2="142.75" y2="594.2714285714285" stroke="#000" stroke-width="2.7"/>
<text x="112.00" y="606.37" font-size="36" text-anchor="end" >20</text>
<line x1="120.9" y1="529.7571428571428" x2="142.75" y2="529.7571428571428" stroke="#000" stroke-width="2.7"/>
<text x="112.00" y="541.86" font-size="36" text-anchor="end" >30</text>
<line x1="130.4" y1="691.0428571428571" x2="142.75" y2="691.0428571428571" stroke="#000" stroke-width="2.7"/>
<line x1="130.4" y1="626.5285714285714" x2="142.75" y2="626.5285714285714" stroke="#000" stroke-width="2.7"/>
<line x1="130.4" y1="562.0142857142856" x2="142.75" y2="562.0142857142856" stroke="#000" stroke-width="2.7"/>
<line x1="130.4" y1="497.49999999999994" x2="142.75" y2="497.49999999999994" stroke="#000" stroke-width="2.7"/>
<line x1="1191.75" y1="723.3" x2="1213.3999999999999" y2="723.3" stroke="#000" stroke-width="2.7"/>
<text x="1224.00" y="735.40" font-size="36" text-anchor="start" >0</text>
<line x1="1191.75" y1="655.56" x2="1213.3999999999999" y2="655.56" stroke="#000" stroke-width="2.7"/>
<text x="1224.00" y="667.66" font-size="36" text-anchor="start" >30</text>
<line x1="1191.75" y1="587.8199999999999" x2="1213.3999999999999" y2="587.8199999999999" stroke="#000" stroke-width="2.7"/>
<text x="1224.00" y="599.92" font-size="36" text-anchor="start" >60</text>
<line x1="1191.75" y1="520.0799999999999" x2="1213.3999999999999" y2="520.0799999999999" stroke="#000" stroke-width="2.7"/>
<text x="1224.00" y="532.18" font-size="36" text-anchor="start" >90</text>
<line x1="1191.75" y1="700.7199999999999" x2="1203.6" y2="700.7199999999999" stroke="#000" stroke-width="2.7"/>
<line x1="1191.75" y1="678.14" x2="1203.6" y2="678.14" stroke="#000" stroke-width="2.7"/>
<line x1="1191.75" y1="632.98" x2="1203.6" y2="632.98" stroke="#000" stroke-width="2.7"/>
<line x1="1191.75" y1="610.4" x2="1203.6" y2="610.4" stroke="#000" stroke-width="2.7"/>
<line x1="1191.75" y1="565.24" x2="1203.6" y2="565.24" stroke="#000" stroke-width="2.7"/>
<line x1="1191.75" y1="542.66" x2="1203.6" y2="542.66" stroke="#000" stroke-width="2.7"/>
<line x1="1191.75" y1="497.49999999999994" x2="1203.6" y2="497.49999999999994" stroke="#000" stroke-width="2.7"/>
<line x1="141.4" y1="731.35" x2="141.4" y2="963.35" stroke="#000" stroke-width="2.7"/>
<line x1="1193.1" y1="731.35" x2="1193.1" y2="963.35" stroke="#000" stroke-width="2.7"/>
<line x1="120.9" y1="962.0" x2="142.75" y2="962.0" stroke="#000" stroke-width="2.7"/>
<text x="112.00" y="974.10" font-size="36" text-anchor="end" >0</text>
<line x1="120.9" y1="911.0444444444445" x2="142.75" y2="911.0444444444445" stroke="#000" stroke-width="2.7"/>
<text x="112.00" y="923.14" font-size="36" text-anchor="end" >400</text>
<line x1="120.9" y1="860.0888888888888" x2="142.75" y2="860.0888888888888" stroke="#000" stroke-width="2.7"/>
<text x="112.00" y="872.19" font-size="36" text-anchor="end" >800</text>
<line x1="120.9" y1="809.1333333333333" x2="142.75" y2="809.1333333333333" stroke="#000" stroke-width="2.7"/>
<text x="112.00" y="821.23" font-size="36" text-anchor="end" >1200</text>
<line x1="120.9" y1="758.1777777777778" x2="142.75" y2="758.1777777777778" stroke="#000" stroke-width="2.7"/>
<text x="112.00" y="770.28" font-size="36" text-anchor="end" >1600</text>
<line x1="130.4" y1="936.5222222222222" x2="142.75" y2="936.5222222222222" stroke="#000" stroke-width="2.7"/>
<line x1="130.4" y1="885.5666666666666" x2="142.75" y2="885.5666666666666" stroke="#000" stroke-width="2.7"/>
<line x1="130.4" y1="834.6111111111111" x2="142.75" y2="834.6111111111111" stroke="#000" stroke-width="2.7"/>
<line x1="130.4" y1="783.6555555555556" x2="142.75" y2="783.6555555555556" stroke="#000" stroke-width="2.7"/>
<line x1="130.4" y1="732.7" x2="142.75" y2="732.7" stroke="#000" stroke-width="2.7"/>
<line x1="1191.75" y1="962.0" x2="1213.3999999999999" y2="962.0" stroke="#000" stroke-width="2.7"/>
<text x="1224.00" y="974.10" font-size="36" text-anchor="start" >0</text>
<line x1="1191.75" y1="859.75" x2="1213.3999999999999" y2="859.75" stroke="#000" stroke-width="2.7"/>
<text x="1224.00" y="871.85" font-size="36" text-anchor="start" >5</text>
<line x1="1191.75" y1="757.5" x2="1213.3999999999999" y2="757.5" stroke="#000" stroke-width="2.7"/>
<line x1="1191.75" y1="941.55" x2="1203.6" y2="941.55" stroke="#000" stroke-width="2.7"/>
<line x1="1191.75" y1="921.1" x2="1203.6" y2="921.1" stroke="#000" stroke-width="2.7"/>
<line x1="1191.75" y1="900.65" x2="1203.6" y2="900.65" stroke="#000" stroke-width="2.7"/>
<line x1="1191.75" y1="880.2" x2="1203.6" y2="880.2" stroke="#000" stroke-width="2.7"/>
<line x1="1191.75" y1="839.3" x2="1203.6" y2="839.3" stroke="#000" stroke-width="2.7"/>
<line x1="1191.75" y1="818.85" x2="1203.6" y2="818.85" stroke="#000" stroke-width="2.7"/>
<line x1="1191.75" y1="798.4" x2="1203.6" y2="798.4" stroke="#000" stroke-width="2.7"/>
<line x1="1191.75" y1="777.95" x2="1203.6" y2="777.95" stroke="#000" stroke-width="2.7"/>
<line x1="1191.75" y1="737.05" x2="1203.6" y2="737.05" stroke="#000" stroke-width="2.7"/>
<line x1="140.1" y1="21.3" x2="1193.9" y2="21.3" stroke="#000" stroke-width="2.7"/>
<line x1="140.1" y1="973.3" x2="1193.9" y2="973.3" stroke="#000" stroke-width="2.7"/>
<line x1="154.5" y1="10.8" x2="154.5" y2="22.650000000000002" stroke="#000" stroke-width="2.7"/>
<line x1="154.5" y1="971.9499999999999" x2="154.5" y2="983.8" stroke="#000" stroke-width="2.7"/>
<line x1="206.4" y1="0.8000000000000007" x2="206.4" y2="22.650000000000002" stroke="#000" stroke-width="2.7"/>
<line x1="206.4" y1="971.9499999999999" x2="206.4" y2="993.8" stroke="#000" stroke-width="2.7"/>
<line x1="258.3" y1="10.8" x2="258.3" y2="22.650000000000002" stroke="#000" stroke-width="2.7"/>
<line x1="258.3" y1="971.9499999999999" x2="258.3" y2="983.8" stroke="#000" stroke-width="2.7"/>
<line x1="310.2" y1="0.8000000000000007" x2="310.2" y2="22.650000000000002" stroke="#000" stroke-width="2.7"/>
<line x1="310.2" y1="971.9499999999999" x2="310.2" y2="993.8" stroke="#000" stroke-width="2.7"/>
<line x1="362.1" y1="10.8" x2="362.1" y2="22.650000000000002" stroke="#000" stroke-width="2.7"/>
<line x1="362.1" y1="971.9499999999999" x2="362.1" y2="983.8" stroke="#000" stroke-width="2.7"/>
<line x1="414.0" y1="0.8000000000000007" x2="414.0" y2="22.650000000000002" stroke="#000" stroke-width="2.7"/>
<line x1="414.0" y1="971.9499999999999" x2="414.0" y2="993.8" stroke="#000" stroke-width="2.7"/>
<line x1="465.9" y1="10.8" x2="465.9" y2="22.650000000000002" stroke="#000" stroke-width="2.7"/>
<line x1="465.9" y1="971.9499999999999" x2="465.9" y2="983.8" stroke="#000" stroke-width="2.7"/>
<line x1="517.8" y1="0.8000000000000007" x2="517.8" y2="22.650000000000002" stroke="#000" stroke-width="2.7"/>
<line x1="517.8" y1="971.9499999999999" x2="517.8" y2="993.8" stroke="#000" stroke-width="2.7"/>
<line x1="569.7" y1="10.8" x2="569.7" y2="22.650000000000002" stroke="#000" stroke-width="2.7"/>
<line x1="569.7" y1="971.9499999999999" x2="569.7" y2="983.8" stroke="#000" stroke-width="2.7"/>
<line x1="621.6" y1="0.8000000000000007" x2="621.6" y2="22.650000000000002" stroke="#000" stroke-width="2.7"/>
<line x1="621.6" y1="971.9499999999999" x2="621.6" y2="993.8" stroke="#000" stroke-width="2.7"/>
<line x1="673.5" y1="10.8" x2="673.5" y2="22.650000000000002" stroke="#000" stroke-width="2.7"/>
<line x1="673.5" y1="971.9499999999999" x2="673.5" y2="983.8" stroke="#000" stroke-width="2.7"/>
<line x1="725.4" y1="0.8000000000000007" x2="725.4" y2="22.650000000000002" stroke="#000" stroke-width="2.7"/>
<line x1="725.4" y1="971.9499999999999" x2="725.4" y2="993.8" stroke="#000" stroke-width="2.7"/>
<line x1="777.3" y1="10.8" x2="777.3" y2="22.650000000000002" stroke="#000" stroke-width="2.7"/>
<line x1="777.3" y1="971.9499999999999" x2="777.3" y2="983.8" stroke="#000" stroke-width="2.7"/>
<line x1="829.1999999999999" y1="0.8000000000000007" x2="829.1999999999999" y2="22.650000000000002" stroke="#000" stroke-width="2.7"/>
<line x1="829.1999999999999" y1="971.9499999999999" x2="829.1999999999999" y2="993.8" stroke="#000" stroke-width="2.7"/>
<line x1="881.0999999999999" y1="10.8" x2="881.0999999999999" y2="22.650000000000002" stroke="#000" stroke-width="2.7"/>
<line x1="881.0999999999999" y1="971.9499999999999" x2="881.0999999999999" y2="983.8" stroke="#000" stroke-width="2.7"/>
<line x1="933.0" y1="0.8000000000000007" x2="933.0" y2="22.650000000000002" stroke="#000" stroke-width="2.7"/>
<line x1="933.0" y1="971.9499999999999" x2="933.0" y2="993.8" stroke="#000" stroke-width="2.7"/>
<line x1="984.9" y1="10.8" x2="984.9" y2="22.650000000000002" stroke="#000" stroke-width="2.7"/>
<line x1="984.9" y1="971.9499999999999" x2="984.9" y2="983.8" stroke="#000" stroke-width="2.7"/>
<line x1="1036.8" y1="0.8000000000000007" x2="1036.8" y2="22.650000000000002" stroke="#000" stroke-width="2.7"/>
<line x1="1036.8" y1="971.9499999999999" x2="1036.8" y2="993.8" stroke="#000" stroke-width="2.7"/>
<line x1="1088.7" y1="10.8" x2="1088.7" y2="22.650000000000002" stroke="#000" stroke-width="2.7"/>
<line x1="1088.7" y1="971.9499999999999" x2="1088.7" y2="983.8" stroke="#000" stroke-width="2.7"/>
<line x1="1140.6" y1="0.8000000000000007" x2="1140.6" y2="22.650000000000002" stroke="#000" stroke-width="2.7"/>
<line x1="1140.6" y1="971.9499999999999" x2="1140.6" y2="993.8" stroke="#000" stroke-width="2.7"/>
<line x1="1192.5" y1="10.8" x2="1192.5" y2="22.650000000000002" stroke="#000" stroke-width="2.7"/>
<line x1="1192.5" y1="971.9499999999999" x2="1192.5" y2="983.8" stroke="#000" stroke-width="2.7"/>
<text x="310.20" y="1037.00" font-size="36" text-anchor="middle" >1/12</text>
<text x="414.00" y="1037.00" font-size="36" text-anchor="middle" >1/14</text>
<text x="517.80" y="1037.00" font-size="36" text-anchor="middle" >1/16</text>
<text x="621.60" y="1037.00" font-size="36" text-anchor="middle" >1/18</text>
<text x="725.40" y="1037.00" font-size="36" text-anchor="middle" >1/20</text>
<text x="829.20" y="1037.00" font-size="36" text-anchor="middle" >1/22</text>
<text x="933.00" y="1037.00" font-size="36" text-anchor="middle" >1/24</text>
<text x="1036.80" y="1037.00" font-size="36" text-anchor="middle" >1/26</text>
<text x="1140.60" y="1037.00" font-size="36" text-anchor="middle" >1/28</text>
<text x="238.00" y="1037.30" font-size="36" text-anchor="end" >2021/1/10</text>
<text x="667.50" y="1084.00" font-size="39" text-anchor="middle" >Time (UTC+8)</text>
<text x="1156.80" y="71.70" font-size="46" text-anchor="middle" >(a)</text>
<text x="1155.00" y="321.10" font-size="46" text-anchor="middle" >(b)</text>
<text x="1100.10" y="534.20" font-size="46" text-anchor="middle" >(c)</text>
<text x="1140.80" y="772.40" font-size="46" text-anchor="middle" >(d)</text>
<text x="174.80" y="77.00" font-size="41.5" text-anchor="start" font-style="italic">P1</text>
<text x="370.60" y="77.00" font-size="41.5" text-anchor="start" font-style="italic">P2</text>
<text x="792.10" y="77.00" font-size="41.5" text-anchor="start" font-style="italic">P3</text>
<text transform="translate(33.0,125.8) rotate(-90)" font-size="39" text-anchor="middle">O<tspan font-size="27" dy="7">3</tspan><tspan dy="-7"> (ppbv)</tspan></text>
<text transform="translate(33.0,382.5) rotate(-90)" font-size="39.3" text-anchor="middle">TVOC (ppbv)</text>
<text transform="translate(32.5,604.5) rotate(-90)" font-size="39" text-anchor="middle">T (°C)</text>
<text transform="translate(29.5,838.2) rotate(-90)" font-size="39" text-anchor="middle">BLH (m)</text>
<text transform="translate(1304.1,141.8) rotate(90)" font-size="40" text-anchor="middle">NOx<tspan dx="11.6"> </tspan>(ppbv)</text>
<text transform="translate(1298,381.0) rotate(90)" font-size="40" text-anchor="middle">PM<tspan font-size="24" dy="9.7" font-style="italic">2.5</tspan><tspan dy="-9.7"> (μg m</tspan><tspan font-size="23" dy="-26" dx="2">-3</tspan><tspan dy="26" dx="-5" font-weight="normal">)</tspan></text>
<text transform="translate(1297.6,611.2) rotate(90)" font-size="40" text-anchor="middle">RH (%)</text>
<text transform="translate(1288.8,881.5) rotate(90)" font-size="40" text-anchor="middle"><tspan font-style="italic">j</tspan><tspan dx="-3">(</tspan>NO<tspan font-size="24" dy="9.5">2</tspan><tspan dy="-9.5">) (s</tspan><tspan font-size="23" dy="-25.5">-1</tspan><tspan dy="25.5" dx="0">)</tspan></text>
<text x="1224.00" y="777.50" font-size="36" text-anchor="start" >10</text>
<text x="1268.00" y="777.50" font-size="36" text-anchor="start" >x</text>
<text x="1294.50" y="777.50" font-size="36" text-anchor="start" >10</text>
<text x="1330.00" y="753.00" font-size="24" text-anchor="start" >-3</text>
<rect x="478.6" y="34.7" width="271.1" height="48.7" fill="#fff" stroke="#000" stroke-width="2"/>
<line x1="488.3" y1="57.9" x2="546.3" y2="57.9" stroke="#FF0C0C" stroke-width="2.6"/>
<text x="558.50" y="67.30" font-size="31.5" text-anchor="start" >O<tspan font-size="22" dy="8">3</tspan></text>
<line x1="612.9" y1="57.9" x2="669.8" y2="57.9" stroke="#4466F8" stroke-width="2.6"/>
<text x="682.00" y="67.30" font-size="31.5" text-anchor="start" >NOx</text>
<rect x="154.6" y="258.6" width="348.0" height="49.799999999999955" fill="#fff" stroke="#000" stroke-width="2"/>
<line x1="164.7" y1="282.4" x2="222.3" y2="282.4" stroke="#42EE22" stroke-width="2.6"/>
<text x="234.50" y="292.00" font-size="31.5" text-anchor="start" >TVOC</text>
<line x1="351.9" y1="282.4" x2="409.5" y2="282.4" stroke="#C8164A" stroke-width="2.6"/>
<text x="422.50" y="292.00" font-size="31.5" text-anchor="start" >PM<tspan font-size="22" dy="8">2.5</tspan></text>
<rect x="150.8" y="490.2" width="256.59999999999997" height="43.80000000000001" fill="#fff" stroke="#000" stroke-width="2"/>
<line x1="160" y1="513.4" x2="217.4" y2="513.4" stroke="#F82A2A" stroke-width="2.6"/>
<text x="230.00" y="523.00" font-size="31.5" text-anchor="start" >T</text>
<line x1="278" y1="513.4" x2="335.4" y2="513.4" stroke="#1010F0" stroke-width="2.6"/>
<text x="348.00" y="523.00" font-size="31.5" text-anchor="start" >RH</text>
<rect x="183.5" y="713.0" width="492.29999999999995" height="49.0" fill="#fff" stroke="#000" stroke-width="2"/>
<line x1="193.5" y1="736.0" x2="251.2" y2="736.0" stroke="#6A10FA" stroke-width="2.6"/>
<text x="264.00" y="745.00" font-size="31.5" text-anchor="start" >BLH</text>
<line x1="349.4" y1="736.0" x2="407.6" y2="736.0" stroke="#EDA021" stroke-width="2.6"/>
<text x="420.00" y="745.00" font-size="31.5" text-anchor="start" ><tspan font-style="italic">j</tspan>(NO<tspan font-size="22" dy="8">2</tspan><tspan dy="-8">)</tspan></text>
<line x1="527.5" y1="736.0" x2="586.4" y2="736.0" stroke="#6E6E6E" stroke-width="3" stroke-dasharray="20.4 19.2"/>
<text x="598.00" y="745.00" font-size="31.5" text-anchor="start" >335m</text></svg></body></html>
